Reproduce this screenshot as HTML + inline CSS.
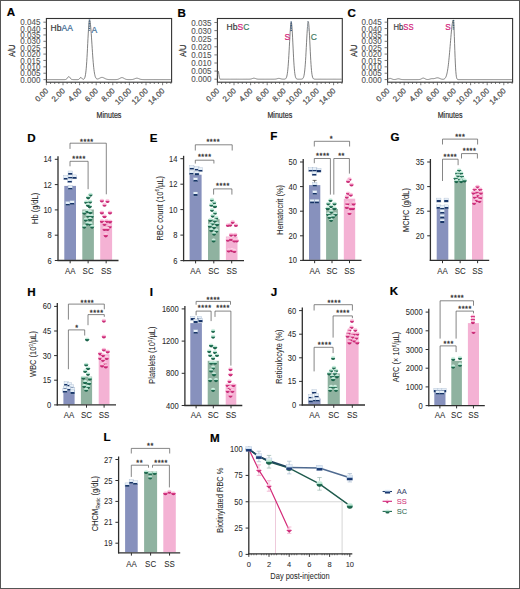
<!DOCTYPE html>
<html><head><meta charset="utf-8"><style>
html,body{margin:0;padding:0;background:#fff;}
svg{display:block;font-family:"Liberation Sans", sans-serif;}

</style></head><body>
<svg width="520" height="589" viewBox="0 0 520 589">
<defs>
<linearGradient id="gAA" x1="0" y1="0" x2="0" y2="1"><stop offset="0" stop-color="#f2f7fc"/><stop offset="0.45" stop-color="#cde0f2"/><stop offset="0.55" stop-color="#23457e"/><stop offset="1" stop-color="#112d66"/></linearGradient>
<linearGradient id="gAA2" x1="0" y1="0" x2="0" y2="1"><stop offset="0" stop-color="#f4f8fc"/><stop offset="0.5" stop-color="#dde9f5"/><stop offset="0.56" stop-color="#1c3a70"/><stop offset="1" stop-color="#0e2858"/></linearGradient>
<linearGradient id="gSC" x1="0" y1="0" x2="0" y2="1"><stop offset="0" stop-color="#e8f8f1"/><stop offset="0.45" stop-color="#ade0ca"/><stop offset="0.55" stop-color="#257458"/><stop offset="1" stop-color="#12553e"/></linearGradient>
<linearGradient id="gSS" x1="0" y1="0" x2="0" y2="1"><stop offset="0" stop-color="#ffe8f3"/><stop offset="0.45" stop-color="#f6a9cd"/><stop offset="0.55" stop-color="#d73682"/><stop offset="1" stop-color="#b61d66"/></linearGradient>
</defs>
<rect x="0" y="0" width="520" height="589" fill="#fff"/>
<rect x="64.30" y="185.90" width="11.70" height="74.00" fill="#8791bd"/>
<rect x="82.30" y="209.50" width="11.60" height="50.40" fill="#8fb2a0"/>
<rect x="100.20" y="220.50" width="11.90" height="39.40" fill="#f4b2d4"/>
<polyline points="70.00,148.90 70.00,143.20 106.30,143.20 106.30,194.30" fill="none" stroke="#5e5e5e" stroke-width="0.75"/>
<text x="86.90" y="144.20" font-size="7.3" text-anchor="middle" fill="#333" font-weight="normal" letter-spacing="0.6" stroke="#333" stroke-width="0.3">****</text>
<polyline points="70.00,166.30 70.00,161.30 88.10,161.30 88.10,189.20" fill="none" stroke="#5e5e5e" stroke-width="0.75"/>
<text x="79.10" y="161.00" font-size="7.3" text-anchor="middle" fill="#333" font-weight="normal" letter-spacing="0.6" stroke="#333" stroke-width="0.3">****</text>
<rect x="68.05" y="171.00" width="4.3" height="4" fill="url(#gAA2)" stroke="#9fb3cb" stroke-width="0.35"/>
<rect x="63.75" y="175.70" width="4.3" height="4" fill="url(#gAA2)" stroke="#9fb3cb" stroke-width="0.35"/>
<rect x="68.05" y="174.90" width="4.3" height="4" fill="url(#gAA2)" stroke="#9fb3cb" stroke-width="0.35"/>
<rect x="72.35" y="174.90" width="4.3" height="4" fill="url(#gAA2)" stroke="#9fb3cb" stroke-width="0.35"/>
<rect x="67.65" y="178.50" width="4.3" height="4" fill="url(#gAA2)" stroke="#9fb3cb" stroke-width="0.35"/>
<rect x="68.05" y="185.50" width="4.3" height="4" fill="url(#gAA2)" stroke="#9fb3cb" stroke-width="0.35"/>
<rect x="65.65" y="201.50" width="4.3" height="4" fill="url(#gAA2)" stroke="#9fb3cb" stroke-width="0.35"/>
<rect x="69.95" y="200.70" width="4.3" height="4" fill="url(#gAA2)" stroke="#9fb3cb" stroke-width="0.35"/>
<circle cx="90.50" cy="194.60" r="2.1" fill="url(#gSC)"/>
<circle cx="88.20" cy="197.30" r="2.1" fill="url(#gSC)"/>
<circle cx="86.20" cy="202.00" r="2.1" fill="url(#gSC)"/>
<circle cx="90.10" cy="201.60" r="2.1" fill="url(#gSC)"/>
<circle cx="89.70" cy="206.30" r="2.1" fill="url(#gSC)"/>
<circle cx="87.80" cy="204.80" r="2.1" fill="url(#gSC)"/>
<circle cx="84.30" cy="212.60" r="2.1" fill="url(#gSC)"/>
<circle cx="87.40" cy="211.00" r="2.1" fill="url(#gSC)"/>
<circle cx="90.10" cy="212.20" r="2.1" fill="url(#gSC)"/>
<circle cx="88.20" cy="215.70" r="2.1" fill="url(#gSC)"/>
<circle cx="91.70" cy="216.10" r="2.1" fill="url(#gSC)"/>
<circle cx="85.80" cy="219.60" r="2.1" fill="url(#gSC)"/>
<circle cx="90.10" cy="219.20" r="2.1" fill="url(#gSC)"/>
<circle cx="87.40" cy="223.50" r="2.1" fill="url(#gSC)"/>
<circle cx="90.50" cy="223.90" r="2.1" fill="url(#gSC)"/>
<circle cx="84.30" cy="226.60" r="2.1" fill="url(#gSC)"/>
<circle cx="92.10" cy="226.60" r="2.1" fill="url(#gSC)"/>
<circle cx="101.90" cy="200.50" r="2.1" fill="url(#gSS)"/>
<circle cx="107.50" cy="200.90" r="2.1" fill="url(#gSS)"/>
<circle cx="104.50" cy="204.70" r="2.1" fill="url(#gSS)"/>
<circle cx="101.90" cy="212.40" r="2.1" fill="url(#gSS)"/>
<circle cx="110.00" cy="212.40" r="2.1" fill="url(#gSS)"/>
<circle cx="104.50" cy="216.20" r="2.1" fill="url(#gSS)"/>
<circle cx="101.90" cy="220.90" r="2.1" fill="url(#gSS)"/>
<circle cx="106.60" cy="220.90" r="2.1" fill="url(#gSS)"/>
<circle cx="110.00" cy="221.30" r="2.1" fill="url(#gSS)"/>
<circle cx="104.50" cy="223.80" r="2.1" fill="url(#gSS)"/>
<circle cx="109.60" cy="226.40" r="2.1" fill="url(#gSS)"/>
<circle cx="104.50" cy="228.90" r="2.1" fill="url(#gSS)"/>
<circle cx="107.50" cy="228.90" r="2.1" fill="url(#gSS)"/>
<circle cx="105.80" cy="235.30" r="2.1" fill="url(#gSS)"/>
<line x1="58.00" y1="156.20" x2="58.00" y2="261.10" stroke="#2e2e2e" stroke-width="1.3"/>
<line x1="57.40" y1="260.50" x2="118.50" y2="260.50" stroke="#2e2e2e" stroke-width="1.3"/>
<line x1="54.80" y1="159.30" x2="58.00" y2="159.30" stroke="#2e2e2e" stroke-width="1"/>
<text transform="translate(51.80,162.30) scale(0.9,1)" font-size="8.4" text-anchor="end" fill="#2a2a2a" font-weight="normal"  stroke="#2a2a2a" stroke-width="0.06">14</text>
<line x1="54.80" y1="184.60" x2="58.00" y2="184.60" stroke="#2e2e2e" stroke-width="1"/>
<text transform="translate(51.80,187.60) scale(0.9,1)" font-size="8.4" text-anchor="end" fill="#2a2a2a" font-weight="normal"  stroke="#2a2a2a" stroke-width="0.06">12</text>
<line x1="54.80" y1="209.90" x2="58.00" y2="209.90" stroke="#2e2e2e" stroke-width="1"/>
<text transform="translate(51.80,212.90) scale(0.9,1)" font-size="8.4" text-anchor="end" fill="#2a2a2a" font-weight="normal"  stroke="#2a2a2a" stroke-width="0.06">10</text>
<line x1="54.80" y1="235.20" x2="58.00" y2="235.20" stroke="#2e2e2e" stroke-width="1"/>
<text transform="translate(51.80,238.20) scale(0.9,1)" font-size="8.4" text-anchor="end" fill="#2a2a2a" font-weight="normal"  stroke="#2a2a2a" stroke-width="0.06">8</text>
<line x1="54.80" y1="260.50" x2="58.00" y2="260.50" stroke="#2e2e2e" stroke-width="1"/>
<text transform="translate(51.80,263.50) scale(0.9,1)" font-size="8.4" text-anchor="end" fill="#2a2a2a" font-weight="normal"  stroke="#2a2a2a" stroke-width="0.06">6</text>
<line x1="70.15" y1="260.50" x2="70.15" y2="263.30" stroke="#2e2e2e" stroke-width="1"/>
<text transform="translate(70.15,273.90) scale(0.93,1)" font-size="8.5" text-anchor="middle" fill="#2a2a2a" font-weight="normal"  stroke="#2a2a2a" stroke-width="0.05">AA</text>
<line x1="88.10" y1="260.50" x2="88.10" y2="263.30" stroke="#2e2e2e" stroke-width="1"/>
<text transform="translate(88.10,273.90) scale(0.93,1)" font-size="8.5" text-anchor="middle" fill="#2a2a2a" font-weight="normal"  stroke="#2a2a2a" stroke-width="0.05">SC</text>
<line x1="106.15" y1="260.50" x2="106.15" y2="263.30" stroke="#2e2e2e" stroke-width="1"/>
<text transform="translate(106.15,273.90) scale(0.93,1)" font-size="8.5" text-anchor="middle" fill="#2a2a2a" font-weight="normal"  stroke="#2a2a2a" stroke-width="0.05">SS</text>
<text transform="translate(37.50,208.40) rotate(-90) scale(0.83,1)" font-size="9" text-anchor="middle" fill="#2a2a2a" stroke="#2a2a2a" stroke-width="0.05">Hb (g/dL)</text>
<text x="27.30" y="141.90" font-size="11.6" font-weight="bold" fill="#000" stroke="#000" stroke-width="0.2" stroke-linejoin="round">D</text>
<rect x="189.60" y="174.70" width="12.00" height="85.30" fill="#8791bd"/>
<rect x="208.00" y="219.20" width="11.60" height="40.80" fill="#8fb2a0"/>
<rect x="225.90" y="236.50" width="11.60" height="23.50" fill="#f4b2d4"/>
<polyline points="195.30,150.50 195.30,144.80 232.20,144.80 232.20,150.50" fill="none" stroke="#5e5e5e" stroke-width="0.75"/>
<text x="213.30" y="144.40" font-size="7.3" text-anchor="middle" fill="#333" font-weight="normal" letter-spacing="0.6" stroke="#333" stroke-width="0.3">****</text>
<polyline points="195.30,163.50 195.30,160.20 213.90,160.20 213.90,163.50" fill="none" stroke="#5e5e5e" stroke-width="0.75"/>
<text x="204.80" y="159.30" font-size="7.3" text-anchor="middle" fill="#333" font-weight="normal" letter-spacing="0.6" stroke="#333" stroke-width="0.3">****</text>
<polyline points="213.60,194.60 213.60,188.90 231.90,188.90 231.90,194.60" fill="none" stroke="#5e5e5e" stroke-width="0.75"/>
<text x="223.00" y="187.90" font-size="7.3" text-anchor="middle" fill="#333" font-weight="normal" letter-spacing="0.6" stroke="#333" stroke-width="0.3">****</text>
<rect x="189.65" y="165.50" width="4.3" height="4" fill="url(#gAA2)" stroke="#9fb3cb" stroke-width="0.35"/>
<rect x="194.75" y="166.50" width="4.3" height="4" fill="url(#gAA2)" stroke="#9fb3cb" stroke-width="0.35"/>
<rect x="198.15" y="167.60" width="4.3" height="4" fill="url(#gAA2)" stroke="#9fb3cb" stroke-width="0.35"/>
<rect x="189.25" y="170.60" width="4.3" height="4" fill="url(#gAA2)" stroke="#9fb3cb" stroke-width="0.35"/>
<rect x="194.75" y="171.30" width="4.3" height="4" fill="url(#gAA2)" stroke="#9fb3cb" stroke-width="0.35"/>
<rect x="193.35" y="177.80" width="4.3" height="4" fill="url(#gAA2)" stroke="#9fb3cb" stroke-width="0.35"/>
<rect x="193.35" y="192.00" width="4.3" height="4" fill="url(#gAA2)" stroke="#9fb3cb" stroke-width="0.35"/>
<circle cx="212.00" cy="199.70" r="2.1" fill="url(#gSC)"/>
<circle cx="214.10" cy="202.60" r="2.1" fill="url(#gSC)"/>
<circle cx="211.30" cy="204.70" r="2.1" fill="url(#gSC)"/>
<circle cx="214.90" cy="206.20" r="2.1" fill="url(#gSC)"/>
<circle cx="212.00" cy="209.80" r="2.1" fill="url(#gSC)"/>
<circle cx="214.90" cy="212.70" r="2.1" fill="url(#gSC)"/>
<circle cx="212.70" cy="215.60" r="2.1" fill="url(#gSC)"/>
<circle cx="216.30" cy="217.70" r="2.1" fill="url(#gSC)"/>
<circle cx="210.50" cy="219.90" r="2.1" fill="url(#gSC)"/>
<circle cx="214.90" cy="220.60" r="2.1" fill="url(#gSC)"/>
<circle cx="212.00" cy="223.50" r="2.1" fill="url(#gSC)"/>
<circle cx="217.00" cy="224.20" r="2.1" fill="url(#gSC)"/>
<circle cx="209.80" cy="225.70" r="2.1" fill="url(#gSC)"/>
<circle cx="214.10" cy="227.10" r="2.1" fill="url(#gSC)"/>
<circle cx="211.30" cy="230.00" r="2.1" fill="url(#gSC)"/>
<circle cx="216.30" cy="230.70" r="2.1" fill="url(#gSC)"/>
<circle cx="214.10" cy="233.60" r="2.1" fill="url(#gSC)"/>
<circle cx="213.60" cy="240.50" r="2.1" fill="url(#gSC)"/>
<circle cx="227.90" cy="225.00" r="2.1" fill="url(#gSS)"/>
<circle cx="230.30" cy="224.60" r="2.1" fill="url(#gSS)"/>
<circle cx="232.70" cy="221.80" r="2.1" fill="url(#gSS)"/>
<circle cx="235.90" cy="225.00" r="2.1" fill="url(#gSS)"/>
<circle cx="231.10" cy="234.60" r="2.1" fill="url(#gSS)"/>
<circle cx="235.10" cy="234.60" r="2.1" fill="url(#gSS)"/>
<circle cx="227.90" cy="239.70" r="2.1" fill="url(#gSS)"/>
<circle cx="231.10" cy="239.00" r="2.1" fill="url(#gSS)"/>
<circle cx="234.30" cy="240.50" r="2.1" fill="url(#gSS)"/>
<circle cx="236.70" cy="240.50" r="2.1" fill="url(#gSS)"/>
<circle cx="228.70" cy="250.50" r="2.1" fill="url(#gSS)"/>
<circle cx="231.90" cy="250.10" r="2.1" fill="url(#gSS)"/>
<circle cx="234.30" cy="250.90" r="2.1" fill="url(#gSS)"/>
<line x1="183.60" y1="155.80" x2="183.60" y2="261.20" stroke="#2e2e2e" stroke-width="1.3"/>
<line x1="183.00" y1="260.60" x2="244.00" y2="260.60" stroke="#2e2e2e" stroke-width="1.3"/>
<line x1="180.40" y1="158.70" x2="183.60" y2="158.70" stroke="#2e2e2e" stroke-width="1"/>
<text transform="translate(177.40,161.70) scale(0.9,1)" font-size="8.4" text-anchor="end" fill="#2a2a2a" font-weight="normal"  stroke="#2a2a2a" stroke-width="0.06">14</text>
<line x1="180.40" y1="184.20" x2="183.60" y2="184.20" stroke="#2e2e2e" stroke-width="1"/>
<text transform="translate(177.40,187.20) scale(0.9,1)" font-size="8.4" text-anchor="end" fill="#2a2a2a" font-weight="normal"  stroke="#2a2a2a" stroke-width="0.06">12</text>
<line x1="180.40" y1="209.60" x2="183.60" y2="209.60" stroke="#2e2e2e" stroke-width="1"/>
<text transform="translate(177.40,212.60) scale(0.9,1)" font-size="8.4" text-anchor="end" fill="#2a2a2a" font-weight="normal"  stroke="#2a2a2a" stroke-width="0.06">10</text>
<line x1="180.40" y1="235.10" x2="183.60" y2="235.10" stroke="#2e2e2e" stroke-width="1"/>
<text transform="translate(177.40,238.10) scale(0.9,1)" font-size="8.4" text-anchor="end" fill="#2a2a2a" font-weight="normal"  stroke="#2a2a2a" stroke-width="0.06">8</text>
<line x1="180.40" y1="260.60" x2="183.60" y2="260.60" stroke="#2e2e2e" stroke-width="1"/>
<text transform="translate(177.40,263.60) scale(0.9,1)" font-size="8.4" text-anchor="end" fill="#2a2a2a" font-weight="normal"  stroke="#2a2a2a" stroke-width="0.06">6</text>
<line x1="195.60" y1="260.60" x2="195.60" y2="263.40" stroke="#2e2e2e" stroke-width="1"/>
<text transform="translate(195.60,273.90) scale(0.93,1)" font-size="8.5" text-anchor="middle" fill="#2a2a2a" font-weight="normal"  stroke="#2a2a2a" stroke-width="0.05">AA</text>
<line x1="213.80" y1="260.60" x2="213.80" y2="263.40" stroke="#2e2e2e" stroke-width="1"/>
<text transform="translate(213.80,273.90) scale(0.93,1)" font-size="8.5" text-anchor="middle" fill="#2a2a2a" font-weight="normal"  stroke="#2a2a2a" stroke-width="0.05">SC</text>
<line x1="231.70" y1="260.60" x2="231.70" y2="263.40" stroke="#2e2e2e" stroke-width="1"/>
<text transform="translate(231.70,273.90) scale(0.93,1)" font-size="8.5" text-anchor="middle" fill="#2a2a2a" font-weight="normal"  stroke="#2a2a2a" stroke-width="0.05">SS</text>
<text transform="translate(162.60,208.20) rotate(-90) scale(0.83,1)" font-size="9" text-anchor="middle" fill="#2a2a2a" stroke="#2a2a2a" stroke-width="0.05">RBC count (10<tspan font-size="5.5" dy="-3.2">6</tspan><tspan dy="3.2">/µL)</tspan></text>
<text x="149.80" y="141.90" font-size="11.6" font-weight="bold" fill="#000" stroke="#000" stroke-width="0.2" stroke-linejoin="round">E</text>
<rect x="309.00" y="185.10" width="11.30" height="74.70" fill="#8791bd"/>
<rect x="326.10" y="209.00" width="11.80" height="50.80" fill="#8fb2a0"/>
<rect x="343.80" y="198.70" width="11.40" height="61.10" fill="#f4b2d4"/>
<line x1="314.60" y1="185.10" x2="314.60" y2="180.40" stroke="#333" stroke-width="0.7"/>
<line x1="312.60" y1="180.40" x2="316.60" y2="180.40" stroke="#333" stroke-width="0.7"/>
<polyline points="314.30,146.50 314.30,141.30 349.60,141.30 349.60,146.50" fill="none" stroke="#5e5e5e" stroke-width="0.75"/>
<text x="331.50" y="141.30" font-size="7.3" text-anchor="middle" fill="#333" font-weight="normal" letter-spacing="0.6" stroke="#333" stroke-width="0.3">*</text>
<polyline points="314.30,163.20 314.30,158.50 330.40,158.50 330.40,194.60" fill="none" stroke="#5e5e5e" stroke-width="0.75"/>
<text x="322.90" y="157.90" font-size="7.3" text-anchor="middle" fill="#333" font-weight="normal" letter-spacing="0.6" stroke="#333" stroke-width="0.3">****</text>
<polyline points="333.80,194.60 333.80,158.50 349.40,158.50 349.40,173.60" fill="none" stroke="#5e5e5e" stroke-width="0.75"/>
<text x="341.60" y="157.90" font-size="7.3" text-anchor="middle" fill="#333" font-weight="normal" letter-spacing="0.6" stroke="#333" stroke-width="0.3">**</text>
<rect x="308.65" y="167.50" width="4.3" height="4" fill="url(#gAA2)" stroke="#9fb3cb" stroke-width="0.35"/>
<rect x="312.65" y="167.50" width="4.3" height="4" fill="url(#gAA2)" stroke="#9fb3cb" stroke-width="0.35"/>
<rect x="316.75" y="168.20" width="4.3" height="4" fill="url(#gAA2)" stroke="#9fb3cb" stroke-width="0.35"/>
<rect x="312.05" y="171.60" width="4.3" height="4" fill="url(#gAA2)" stroke="#9fb3cb" stroke-width="0.35"/>
<rect x="312.65" y="182.50" width="4.3" height="4" fill="url(#gAA2)" stroke="#9fb3cb" stroke-width="0.35"/>
<rect x="312.65" y="190.60" width="4.3" height="4" fill="url(#gAA2)" stroke="#9fb3cb" stroke-width="0.35"/>
<rect x="309.95" y="199.40" width="4.3" height="4" fill="url(#gAA2)" stroke="#9fb3cb" stroke-width="0.35"/>
<rect x="314.75" y="199.40" width="4.3" height="4" fill="url(#gAA2)" stroke="#9fb3cb" stroke-width="0.35"/>
<circle cx="330.50" cy="200.10" r="2.1" fill="url(#gSC)"/>
<circle cx="328.40" cy="203.50" r="2.1" fill="url(#gSC)"/>
<circle cx="334.50" cy="203.50" r="2.1" fill="url(#gSC)"/>
<circle cx="331.10" cy="206.20" r="2.1" fill="url(#gSC)"/>
<circle cx="327.70" cy="208.20" r="2.1" fill="url(#gSC)"/>
<circle cx="334.50" cy="208.20" r="2.1" fill="url(#gSC)"/>
<circle cx="331.10" cy="211.60" r="2.1" fill="url(#gSC)"/>
<circle cx="328.40" cy="214.30" r="2.1" fill="url(#gSC)"/>
<circle cx="335.20" cy="214.30" r="2.1" fill="url(#gSC)"/>
<circle cx="331.10" cy="219.80" r="2.1" fill="url(#gSC)"/>
<circle cx="333.00" cy="216.50" r="2.1" fill="url(#gSC)"/>
<circle cx="329.50" cy="217.00" r="2.1" fill="url(#gSC)"/>
<circle cx="349.50" cy="179.00" r="2.1" fill="url(#gSS)"/>
<circle cx="348.10" cy="181.00" r="2.1" fill="url(#gSS)"/>
<circle cx="351.50" cy="184.50" r="2.1" fill="url(#gSS)"/>
<circle cx="348.10" cy="193.30" r="2.1" fill="url(#gSS)"/>
<circle cx="346.80" cy="196.70" r="2.1" fill="url(#gSS)"/>
<circle cx="350.80" cy="194.60" r="2.1" fill="url(#gSS)"/>
<circle cx="347.40" cy="203.50" r="2.1" fill="url(#gSS)"/>
<circle cx="353.60" cy="203.50" r="2.1" fill="url(#gSS)"/>
<circle cx="346.80" cy="206.90" r="2.1" fill="url(#gSS)"/>
<circle cx="350.80" cy="208.20" r="2.1" fill="url(#gSS)"/>
<circle cx="352.90" cy="208.20" r="2.1" fill="url(#gSS)"/>
<circle cx="349.50" cy="213.00" r="2.1" fill="url(#gSS)"/>
<line x1="303.20" y1="159.00" x2="303.20" y2="261.00" stroke="#2e2e2e" stroke-width="1.3"/>
<line x1="302.60" y1="260.40" x2="361.50" y2="260.40" stroke="#2e2e2e" stroke-width="1.3"/>
<line x1="300.00" y1="162.00" x2="303.20" y2="162.00" stroke="#2e2e2e" stroke-width="1"/>
<text transform="translate(297.00,165.00) scale(0.9,1)" font-size="8.4" text-anchor="end" fill="#2a2a2a" font-weight="normal"  stroke="#2a2a2a" stroke-width="0.06">50</text>
<line x1="300.00" y1="186.60" x2="303.20" y2="186.60" stroke="#2e2e2e" stroke-width="1"/>
<text transform="translate(297.00,189.60) scale(0.9,1)" font-size="8.4" text-anchor="end" fill="#2a2a2a" font-weight="normal"  stroke="#2a2a2a" stroke-width="0.06">40</text>
<line x1="300.00" y1="211.20" x2="303.20" y2="211.20" stroke="#2e2e2e" stroke-width="1"/>
<text transform="translate(297.00,214.20) scale(0.9,1)" font-size="8.4" text-anchor="end" fill="#2a2a2a" font-weight="normal"  stroke="#2a2a2a" stroke-width="0.06">30</text>
<line x1="300.00" y1="235.80" x2="303.20" y2="235.80" stroke="#2e2e2e" stroke-width="1"/>
<text transform="translate(297.00,238.80) scale(0.9,1)" font-size="8.4" text-anchor="end" fill="#2a2a2a" font-weight="normal"  stroke="#2a2a2a" stroke-width="0.06">20</text>
<line x1="300.00" y1="260.40" x2="303.20" y2="260.40" stroke="#2e2e2e" stroke-width="1"/>
<text transform="translate(297.00,263.40) scale(0.9,1)" font-size="8.4" text-anchor="end" fill="#2a2a2a" font-weight="normal"  stroke="#2a2a2a" stroke-width="0.06">10</text>
<line x1="314.65" y1="260.40" x2="314.65" y2="263.20" stroke="#2e2e2e" stroke-width="1"/>
<text transform="translate(314.65,273.90) scale(0.93,1)" font-size="8.5" text-anchor="middle" fill="#2a2a2a" font-weight="normal"  stroke="#2a2a2a" stroke-width="0.05">AA</text>
<line x1="332.00" y1="260.40" x2="332.00" y2="263.20" stroke="#2e2e2e" stroke-width="1"/>
<text transform="translate(332.00,273.90) scale(0.93,1)" font-size="8.5" text-anchor="middle" fill="#2a2a2a" font-weight="normal"  stroke="#2a2a2a" stroke-width="0.05">SC</text>
<line x1="349.50" y1="260.40" x2="349.50" y2="263.20" stroke="#2e2e2e" stroke-width="1"/>
<text transform="translate(349.50,273.90) scale(0.93,1)" font-size="8.5" text-anchor="middle" fill="#2a2a2a" font-weight="normal"  stroke="#2a2a2a" stroke-width="0.05">SS</text>
<text transform="translate(282.60,209.80) rotate(-90) scale(0.83,1)" font-size="9" text-anchor="middle" fill="#2a2a2a" stroke="#2a2a2a" stroke-width="0.05">Hematocrit (%)</text>
<text x="270.30" y="140.20" font-size="11.6" font-weight="bold" fill="#000" stroke="#000" stroke-width="0.2" stroke-linejoin="round">F</text>
<rect x="436.70" y="206.50" width="11.60" height="53.30" fill="#8791bd"/>
<rect x="454.40" y="180.40" width="11.50" height="79.40" fill="#8fb2a0"/>
<rect x="472.00" y="191.50" width="11.20" height="68.30" fill="#f4b2d4"/>
<polyline points="442.50,144.50 442.50,139.10 477.60,139.10 477.60,144.50" fill="none" stroke="#5e5e5e" stroke-width="0.75"/>
<text x="460.30" y="138.90" font-size="7.3" text-anchor="middle" fill="#333" font-weight="normal" letter-spacing="0.6" stroke="#333" stroke-width="0.3">***</text>
<polyline points="461.50,158.50 461.50,153.60 477.40,153.60 477.40,158.50" fill="none" stroke="#5e5e5e" stroke-width="0.75"/>
<text x="469.60" y="152.90" font-size="7.3" text-anchor="middle" fill="#333" font-weight="normal" letter-spacing="0.6" stroke="#333" stroke-width="0.3">****</text>
<polyline points="442.50,181.00 442.50,159.20 458.10,159.20 458.10,165.20" fill="none" stroke="#5e5e5e" stroke-width="0.75"/>
<text x="450.40" y="158.60" font-size="7.3" text-anchor="middle" fill="#333" font-weight="normal" letter-spacing="0.6" stroke="#333" stroke-width="0.3">****</text>
<rect x="436.65" y="198.10" width="4.3" height="4" fill="url(#gAA2)" stroke="#9fb3cb" stroke-width="0.35"/>
<rect x="444.05" y="198.10" width="4.3" height="4" fill="url(#gAA2)" stroke="#9fb3cb" stroke-width="0.35"/>
<rect x="436.65" y="204.90" width="4.3" height="4" fill="url(#gAA2)" stroke="#9fb3cb" stroke-width="0.35"/>
<rect x="444.05" y="204.90" width="4.3" height="4" fill="url(#gAA2)" stroke="#9fb3cb" stroke-width="0.35"/>
<rect x="440.05" y="205.60" width="4.3" height="4" fill="url(#gAA2)" stroke="#9fb3cb" stroke-width="0.35"/>
<rect x="440.05" y="209.60" width="4.3" height="4" fill="url(#gAA2)" stroke="#9fb3cb" stroke-width="0.35"/>
<rect x="440.05" y="214.40" width="4.3" height="4" fill="url(#gAA2)" stroke="#9fb3cb" stroke-width="0.35"/>
<rect x="440.05" y="219.10" width="4.3" height="4" fill="url(#gAA2)" stroke="#9fb3cb" stroke-width="0.35"/>
<circle cx="459.10" cy="170.20" r="2.1" fill="url(#gSC)"/>
<circle cx="457.10" cy="172.90" r="2.1" fill="url(#gSC)"/>
<circle cx="461.20" cy="172.90" r="2.1" fill="url(#gSC)"/>
<circle cx="457.80" cy="175.60" r="2.1" fill="url(#gSC)"/>
<circle cx="461.90" cy="176.30" r="2.1" fill="url(#gSC)"/>
<circle cx="455.70" cy="178.30" r="2.1" fill="url(#gSC)"/>
<circle cx="459.80" cy="179.00" r="2.1" fill="url(#gSC)"/>
<circle cx="463.20" cy="179.00" r="2.1" fill="url(#gSC)"/>
<circle cx="456.40" cy="181.10" r="2.1" fill="url(#gSC)"/>
<circle cx="461.20" cy="181.10" r="2.1" fill="url(#gSC)"/>
<circle cx="464.60" cy="180.40" r="2.1" fill="url(#gSC)"/>
<circle cx="477.50" cy="186.50" r="2.1" fill="url(#gSS)"/>
<circle cx="474.80" cy="189.20" r="2.1" fill="url(#gSS)"/>
<circle cx="480.20" cy="189.20" r="2.1" fill="url(#gSS)"/>
<circle cx="476.80" cy="191.90" r="2.1" fill="url(#gSS)"/>
<circle cx="473.40" cy="192.60" r="2.1" fill="url(#gSS)"/>
<circle cx="480.90" cy="192.60" r="2.1" fill="url(#gSS)"/>
<circle cx="477.50" cy="195.30" r="2.1" fill="url(#gSS)"/>
<circle cx="474.80" cy="196.70" r="2.1" fill="url(#gSS)"/>
<circle cx="480.20" cy="197.40" r="2.1" fill="url(#gSS)"/>
<circle cx="476.80" cy="200.10" r="2.1" fill="url(#gSS)"/>
<circle cx="474.10" cy="202.80" r="2.1" fill="url(#gSS)"/>
<circle cx="479.50" cy="200.80" r="2.1" fill="url(#gSS)"/>
<line x1="430.40" y1="159.00" x2="430.40" y2="261.00" stroke="#2e2e2e" stroke-width="1.3"/>
<line x1="429.80" y1="260.40" x2="489.20" y2="260.40" stroke="#2e2e2e" stroke-width="1.3"/>
<line x1="427.20" y1="162.00" x2="430.40" y2="162.00" stroke="#2e2e2e" stroke-width="1"/>
<text transform="translate(424.20,165.00) scale(0.9,1)" font-size="8.4" text-anchor="end" fill="#2a2a2a" font-weight="normal"  stroke="#2a2a2a" stroke-width="0.06">35</text>
<line x1="427.20" y1="186.60" x2="430.40" y2="186.60" stroke="#2e2e2e" stroke-width="1"/>
<text transform="translate(424.20,189.60) scale(0.9,1)" font-size="8.4" text-anchor="end" fill="#2a2a2a" font-weight="normal"  stroke="#2a2a2a" stroke-width="0.06">30</text>
<line x1="427.20" y1="211.20" x2="430.40" y2="211.20" stroke="#2e2e2e" stroke-width="1"/>
<text transform="translate(424.20,214.20) scale(0.9,1)" font-size="8.4" text-anchor="end" fill="#2a2a2a" font-weight="normal"  stroke="#2a2a2a" stroke-width="0.06">25</text>
<line x1="427.20" y1="235.80" x2="430.40" y2="235.80" stroke="#2e2e2e" stroke-width="1"/>
<text transform="translate(424.20,238.80) scale(0.9,1)" font-size="8.4" text-anchor="end" fill="#2a2a2a" font-weight="normal"  stroke="#2a2a2a" stroke-width="0.06">20</text>
<line x1="442.50" y1="260.40" x2="442.50" y2="263.20" stroke="#2e2e2e" stroke-width="1"/>
<text transform="translate(442.50,273.90) scale(0.93,1)" font-size="8.5" text-anchor="middle" fill="#2a2a2a" font-weight="normal"  stroke="#2a2a2a" stroke-width="0.05">AA</text>
<line x1="460.15" y1="260.40" x2="460.15" y2="263.20" stroke="#2e2e2e" stroke-width="1"/>
<text transform="translate(460.15,273.90) scale(0.93,1)" font-size="8.5" text-anchor="middle" fill="#2a2a2a" font-weight="normal"  stroke="#2a2a2a" stroke-width="0.05">SC</text>
<line x1="477.60" y1="260.40" x2="477.60" y2="263.20" stroke="#2e2e2e" stroke-width="1"/>
<text transform="translate(477.60,273.90) scale(0.93,1)" font-size="8.5" text-anchor="middle" fill="#2a2a2a" font-weight="normal"  stroke="#2a2a2a" stroke-width="0.05">SS</text>
<text transform="translate(409.10,210.10) rotate(-90) scale(0.83,1)" font-size="9" text-anchor="middle" fill="#2a2a2a" stroke="#2a2a2a" stroke-width="0.05">MCHC (g/dL)</text>
<text x="390.40" y="141.40" font-size="11.6" font-weight="bold" fill="#000" stroke="#000" stroke-width="0.2" stroke-linejoin="round">G</text>
<rect x="63.40" y="389.50" width="11.20" height="14.80" fill="#8791bd"/>
<rect x="80.90" y="376.60" width="11.20" height="27.70" fill="#8fb2a0"/>
<rect x="98.70" y="354.20" width="10.80" height="50.10" fill="#f4b2d4"/>
<polyline points="68.40,319.60 68.40,304.10 104.30,304.10 104.30,309.30" fill="none" stroke="#5e5e5e" stroke-width="0.75"/>
<text x="87.40" y="304.70" font-size="7.3" text-anchor="middle" fill="#333" font-weight="normal" letter-spacing="0.6" stroke="#333" stroke-width="0.3">****</text>
<polyline points="88.00,325.20 88.00,314.60 104.30,314.60 104.30,316.80" fill="none" stroke="#5e5e5e" stroke-width="0.75"/>
<text x="96.70" y="314.90" font-size="7.3" text-anchor="middle" fill="#333" font-weight="normal" letter-spacing="0.6" stroke="#333" stroke-width="0.3">****</text>
<polyline points="68.40,369.20 68.40,329.90 84.70,329.90 84.70,335.50" fill="none" stroke="#5e5e5e" stroke-width="0.75"/>
<text x="77.10" y="330.30" font-size="7.3" text-anchor="middle" fill="#333" font-weight="normal" letter-spacing="0.6" stroke="#333" stroke-width="0.3">*</text>
<rect x="64.05" y="381.60" width="4.3" height="4" fill="url(#gAA2)" stroke="#9fb3cb" stroke-width="0.35"/>
<rect x="67.35" y="382.50" width="4.3" height="4" fill="url(#gAA2)" stroke="#9fb3cb" stroke-width="0.35"/>
<rect x="69.35" y="384.50" width="4.3" height="4" fill="url(#gAA2)" stroke="#9fb3cb" stroke-width="0.35"/>
<rect x="63.35" y="386.00" width="4.3" height="4" fill="url(#gAA2)" stroke="#9fb3cb" stroke-width="0.35"/>
<rect x="66.65" y="386.60" width="4.3" height="4" fill="url(#gAA2)" stroke="#9fb3cb" stroke-width="0.35"/>
<rect x="70.55" y="387.50" width="4.3" height="4" fill="url(#gAA2)" stroke="#9fb3cb" stroke-width="0.35"/>
<rect x="62.85" y="388.70" width="4.3" height="4" fill="url(#gAA2)" stroke="#9fb3cb" stroke-width="0.35"/>
<rect x="70.35" y="390.00" width="4.3" height="4" fill="url(#gAA2)" stroke="#9fb3cb" stroke-width="0.35"/>
<circle cx="87.10" cy="339.30" r="2.1" fill="url(#gSC)"/>
<circle cx="86.20" cy="364.50" r="2.1" fill="url(#gSC)"/>
<circle cx="88.00" cy="368.20" r="2.1" fill="url(#gSC)"/>
<circle cx="85.20" cy="371.00" r="2.1" fill="url(#gSC)"/>
<circle cx="88.00" cy="373.80" r="2.1" fill="url(#gSC)"/>
<circle cx="83.40" cy="377.60" r="2.1" fill="url(#gSC)"/>
<circle cx="89.90" cy="378.50" r="2.1" fill="url(#gSC)"/>
<circle cx="85.20" cy="382.20" r="2.1" fill="url(#gSC)"/>
<circle cx="89.00" cy="383.20" r="2.1" fill="url(#gSC)"/>
<circle cx="84.30" cy="386.00" r="2.1" fill="url(#gSC)"/>
<circle cx="88.00" cy="386.90" r="2.1" fill="url(#gSC)"/>
<circle cx="86.20" cy="389.70" r="2.1" fill="url(#gSC)"/>
<circle cx="103.90" cy="320.60" r="2.1" fill="url(#gSS)"/>
<circle cx="103.90" cy="336.40" r="2.1" fill="url(#gSS)"/>
<circle cx="103.90" cy="349.50" r="2.1" fill="url(#gSS)"/>
<circle cx="100.20" cy="353.30" r="2.1" fill="url(#gSS)"/>
<circle cx="107.70" cy="351.40" r="2.1" fill="url(#gSS)"/>
<circle cx="103.00" cy="355.10" r="2.1" fill="url(#gSS)"/>
<circle cx="100.20" cy="357.90" r="2.1" fill="url(#gSS)"/>
<circle cx="106.70" cy="357.90" r="2.1" fill="url(#gSS)"/>
<circle cx="103.00" cy="359.80" r="2.1" fill="url(#gSS)"/>
<circle cx="104.90" cy="363.60" r="2.1" fill="url(#gSS)"/>
<circle cx="102.10" cy="365.40" r="2.1" fill="url(#gSS)"/>
<circle cx="105.80" cy="366.40" r="2.1" fill="url(#gSS)"/>
<line x1="57.30" y1="302.90" x2="57.30" y2="405.50" stroke="#2e2e2e" stroke-width="1.3"/>
<line x1="56.70" y1="404.90" x2="116.00" y2="404.90" stroke="#2e2e2e" stroke-width="1.3"/>
<line x1="54.10" y1="306.40" x2="57.30" y2="306.40" stroke="#2e2e2e" stroke-width="1"/>
<text transform="translate(51.10,309.40) scale(0.9,1)" font-size="8.4" text-anchor="end" fill="#2a2a2a" font-weight="normal"  stroke="#2a2a2a" stroke-width="0.06">60</text>
<line x1="54.10" y1="331.00" x2="57.30" y2="331.00" stroke="#2e2e2e" stroke-width="1"/>
<text transform="translate(51.10,334.00) scale(0.9,1)" font-size="8.4" text-anchor="end" fill="#2a2a2a" font-weight="normal"  stroke="#2a2a2a" stroke-width="0.06">45</text>
<line x1="54.10" y1="355.60" x2="57.30" y2="355.60" stroke="#2e2e2e" stroke-width="1"/>
<text transform="translate(51.10,358.60) scale(0.9,1)" font-size="8.4" text-anchor="end" fill="#2a2a2a" font-weight="normal"  stroke="#2a2a2a" stroke-width="0.06">30</text>
<line x1="54.10" y1="380.20" x2="57.30" y2="380.20" stroke="#2e2e2e" stroke-width="1"/>
<text transform="translate(51.10,383.20) scale(0.9,1)" font-size="8.4" text-anchor="end" fill="#2a2a2a" font-weight="normal"  stroke="#2a2a2a" stroke-width="0.06">15</text>
<line x1="54.10" y1="404.90" x2="57.30" y2="404.90" stroke="#2e2e2e" stroke-width="1"/>
<text transform="translate(51.10,407.90) scale(0.9,1)" font-size="8.4" text-anchor="end" fill="#2a2a2a" font-weight="normal"  stroke="#2a2a2a" stroke-width="0.06">0</text>
<line x1="69.00" y1="404.90" x2="69.00" y2="407.70" stroke="#2e2e2e" stroke-width="1"/>
<text transform="translate(69.00,418.00) scale(0.93,1)" font-size="8.5" text-anchor="middle" fill="#2a2a2a" font-weight="normal"  stroke="#2a2a2a" stroke-width="0.05">AA</text>
<line x1="86.50" y1="404.90" x2="86.50" y2="407.70" stroke="#2e2e2e" stroke-width="1"/>
<text transform="translate(86.50,418.00) scale(0.93,1)" font-size="8.5" text-anchor="middle" fill="#2a2a2a" font-weight="normal"  stroke="#2a2a2a" stroke-width="0.05">SC</text>
<line x1="104.10" y1="404.90" x2="104.10" y2="407.70" stroke="#2e2e2e" stroke-width="1"/>
<text transform="translate(104.10,418.00) scale(0.93,1)" font-size="8.5" text-anchor="middle" fill="#2a2a2a" font-weight="normal"  stroke="#2a2a2a" stroke-width="0.05">SS</text>
<text transform="translate(36.20,354.00) rotate(-90) scale(0.83,1)" font-size="9" text-anchor="middle" fill="#2a2a2a" stroke="#2a2a2a" stroke-width="0.05">WBC (10<tspan font-size="5.5" dy="-3.2">3</tspan><tspan dy="3.2">/µL)</tspan></text>
<text x="27.30" y="295.90" font-size="11.6" font-weight="bold" fill="#000" stroke="#000" stroke-width="0.2" stroke-linejoin="round">H</text>
<rect x="190.30" y="323.10" width="11.60" height="81.80" fill="#8791bd"/>
<rect x="207.70" y="360.80" width="11.20" height="44.10" fill="#8fb2a0"/>
<rect x="225.70" y="384.00" width="10.60" height="20.90" fill="#f4b2d4"/>
<polyline points="196.10,304.70 196.10,301.40 230.50,301.40 230.50,304.70" fill="none" stroke="#5e5e5e" stroke-width="0.75"/>
<text x="213.40" y="302.00" font-size="7.3" text-anchor="middle" fill="#333" font-weight="normal" letter-spacing="0.6" stroke="#333" stroke-width="0.3">****</text>
<polyline points="196.10,315.30 196.10,311.10 211.10,311.10 211.10,321.10" fill="none" stroke="#5e5e5e" stroke-width="0.75"/>
<text x="204.70" y="310.30" font-size="7.3" text-anchor="middle" fill="#333" font-weight="normal" letter-spacing="0.6" stroke="#333" stroke-width="0.3">****</text>
<polyline points="215.00,316.90 215.00,311.10 230.90,311.10 230.90,365.60" fill="none" stroke="#5e5e5e" stroke-width="0.75"/>
<text x="223.10" y="310.30" font-size="7.3" text-anchor="middle" fill="#333" font-weight="normal" letter-spacing="0.6" stroke="#333" stroke-width="0.3">****</text>
<rect x="190.65" y="316.20" width="4.3" height="4" fill="url(#gAA2)" stroke="#9fb3cb" stroke-width="0.35"/>
<rect x="197.35" y="316.20" width="4.3" height="4" fill="url(#gAA2)" stroke="#9fb3cb" stroke-width="0.35"/>
<rect x="193.55" y="319.10" width="4.3" height="4" fill="url(#gAA2)" stroke="#9fb3cb" stroke-width="0.35"/>
<rect x="198.35" y="318.20" width="4.3" height="4" fill="url(#gAA2)" stroke="#9fb3cb" stroke-width="0.35"/>
<rect x="193.55" y="329.80" width="4.3" height="4" fill="url(#gAA2)" stroke="#9fb3cb" stroke-width="0.35"/>
<circle cx="213.10" cy="330.80" r="2.1" fill="url(#gSC)"/>
<circle cx="213.10" cy="336.60" r="2.1" fill="url(#gSC)"/>
<circle cx="211.10" cy="345.30" r="2.1" fill="url(#gSC)"/>
<circle cx="215.00" cy="347.30" r="2.1" fill="url(#gSC)"/>
<circle cx="209.20" cy="351.10" r="2.1" fill="url(#gSC)"/>
<circle cx="215.00" cy="352.10" r="2.1" fill="url(#gSC)"/>
<circle cx="210.20" cy="355.00" r="2.1" fill="url(#gSC)"/>
<circle cx="217.00" cy="355.00" r="2.1" fill="url(#gSC)"/>
<circle cx="213.10" cy="357.90" r="2.1" fill="url(#gSC)"/>
<circle cx="211.10" cy="362.70" r="2.1" fill="url(#gSC)"/>
<circle cx="215.00" cy="362.70" r="2.1" fill="url(#gSC)"/>
<circle cx="213.10" cy="367.60" r="2.1" fill="url(#gSC)"/>
<circle cx="211.10" cy="370.50" r="2.1" fill="url(#gSC)"/>
<circle cx="214.00" cy="374.30" r="2.1" fill="url(#gSC)"/>
<circle cx="210.20" cy="380.10" r="2.1" fill="url(#gSC)"/>
<circle cx="216.00" cy="380.10" r="2.1" fill="url(#gSC)"/>
<circle cx="213.10" cy="389.80" r="2.1" fill="url(#gSC)"/>
<circle cx="230.50" cy="369.10" r="2.1" fill="url(#gSS)"/>
<circle cx="230.50" cy="374.30" r="2.1" fill="url(#gSS)"/>
<circle cx="229.50" cy="381.10" r="2.1" fill="url(#gSS)"/>
<circle cx="227.60" cy="385.00" r="2.1" fill="url(#gSS)"/>
<circle cx="233.40" cy="385.00" r="2.1" fill="url(#gSS)"/>
<circle cx="229.50" cy="387.90" r="2.1" fill="url(#gSS)"/>
<circle cx="231.50" cy="388.80" r="2.1" fill="url(#gSS)"/>
<circle cx="232.40" cy="390.80" r="2.1" fill="url(#gSS)"/>
<circle cx="227.60" cy="390.80" r="2.1" fill="url(#gSS)"/>
<circle cx="230.50" cy="395.60" r="2.1" fill="url(#gSS)"/>
<line x1="184.90" y1="306.00" x2="184.90" y2="406.10" stroke="#2e2e2e" stroke-width="1.3"/>
<line x1="184.30" y1="405.50" x2="242.30" y2="405.50" stroke="#2e2e2e" stroke-width="1.3"/>
<line x1="181.70" y1="308.90" x2="184.90" y2="308.90" stroke="#2e2e2e" stroke-width="1"/>
<text transform="translate(178.70,311.90) scale(0.9,1)" font-size="8.4" text-anchor="end" fill="#2a2a2a" font-weight="normal"  stroke="#2a2a2a" stroke-width="0.06">1600</text>
<line x1="181.70" y1="341.10" x2="184.90" y2="341.10" stroke="#2e2e2e" stroke-width="1"/>
<text transform="translate(178.70,344.10) scale(0.9,1)" font-size="8.4" text-anchor="end" fill="#2a2a2a" font-weight="normal"  stroke="#2a2a2a" stroke-width="0.06">1200</text>
<line x1="181.70" y1="373.30" x2="184.90" y2="373.30" stroke="#2e2e2e" stroke-width="1"/>
<text transform="translate(178.70,376.30) scale(0.9,1)" font-size="8.4" text-anchor="end" fill="#2a2a2a" font-weight="normal"  stroke="#2a2a2a" stroke-width="0.06">800</text>
<line x1="181.70" y1="405.50" x2="184.90" y2="405.50" stroke="#2e2e2e" stroke-width="1"/>
<text transform="translate(178.70,408.50) scale(0.9,1)" font-size="8.4" text-anchor="end" fill="#2a2a2a" font-weight="normal"  stroke="#2a2a2a" stroke-width="0.06">400</text>
<line x1="196.10" y1="405.50" x2="196.10" y2="408.30" stroke="#2e2e2e" stroke-width="1"/>
<text transform="translate(196.10,418.00) scale(0.93,1)" font-size="8.5" text-anchor="middle" fill="#2a2a2a" font-weight="normal"  stroke="#2a2a2a" stroke-width="0.05">AA</text>
<line x1="213.30" y1="405.50" x2="213.30" y2="408.30" stroke="#2e2e2e" stroke-width="1"/>
<text transform="translate(213.30,418.00) scale(0.93,1)" font-size="8.5" text-anchor="middle" fill="#2a2a2a" font-weight="normal"  stroke="#2a2a2a" stroke-width="0.05">SC</text>
<line x1="231.00" y1="405.50" x2="231.00" y2="408.30" stroke="#2e2e2e" stroke-width="1"/>
<text transform="translate(231.00,418.00) scale(0.93,1)" font-size="8.5" text-anchor="middle" fill="#2a2a2a" font-weight="normal"  stroke="#2a2a2a" stroke-width="0.05">SS</text>
<text transform="translate(155.30,355.10) rotate(-90) scale(0.83,1)" font-size="9" text-anchor="middle" fill="#2a2a2a" stroke="#2a2a2a" stroke-width="0.05">Platelets (10<tspan font-size="5.5" dy="-3.2">3</tspan><tspan dy="3.2">/µL)</tspan></text>
<text x="149.80" y="295.90" font-size="11.6" font-weight="bold" fill="#000" stroke="#000" stroke-width="0.2" stroke-linejoin="round">I</text>
<rect x="308.30" y="398.50" width="12.20" height="5.90" fill="#8791bd"/>
<rect x="327.70" y="373.40" width="12.10" height="31.00" fill="#8fb2a0"/>
<rect x="346.00" y="332.70" width="12.60" height="71.70" fill="#f4b2d4"/>
<polyline points="314.10,310.50 314.10,304.70 352.40,304.70 352.40,310.50" fill="none" stroke="#5e5e5e" stroke-width="0.75"/>
<text x="334.30" y="305.10" font-size="7.3" text-anchor="middle" fill="#333" font-weight="normal" letter-spacing="0.6" stroke="#333" stroke-width="0.3">****</text>
<polyline points="333.10,337.60 333.10,315.90 352.40,315.90 352.40,318.20" fill="none" stroke="#5e5e5e" stroke-width="0.75"/>
<text x="343.10" y="315.20" font-size="7.3" text-anchor="middle" fill="#333" font-weight="normal" letter-spacing="0.6" stroke="#333" stroke-width="0.3">****</text>
<polyline points="314.10,371.40 314.10,347.30 333.10,347.30 333.10,353.10" fill="none" stroke="#5e5e5e" stroke-width="0.75"/>
<text x="324.70" y="347.10" font-size="7.3" text-anchor="middle" fill="#333" font-weight="normal" letter-spacing="0.6" stroke="#333" stroke-width="0.3">****</text>
<rect x="311.95" y="389.70" width="4.3" height="4" fill="url(#gAA2)" stroke="#9fb3cb" stroke-width="0.35"/>
<rect x="308.65" y="394.60" width="4.3" height="4" fill="url(#gAA2)" stroke="#9fb3cb" stroke-width="0.35"/>
<rect x="314.45" y="393.60" width="4.3" height="4" fill="url(#gAA2)" stroke="#9fb3cb" stroke-width="0.35"/>
<rect x="311.55" y="397.50" width="4.3" height="4" fill="url(#gAA2)" stroke="#9fb3cb" stroke-width="0.35"/>
<rect x="315.45" y="397.50" width="4.3" height="4" fill="url(#gAA2)" stroke="#9fb3cb" stroke-width="0.35"/>
<rect x="308.65" y="398.40" width="4.3" height="4" fill="url(#gAA2)" stroke="#9fb3cb" stroke-width="0.35"/>
<circle cx="333.10" cy="357.90" r="2.1" fill="url(#gSC)"/>
<circle cx="334.00" cy="367.60" r="2.1" fill="url(#gSC)"/>
<circle cx="331.10" cy="370.50" r="2.1" fill="url(#gSC)"/>
<circle cx="336.00" cy="370.50" r="2.1" fill="url(#gSC)"/>
<circle cx="329.20" cy="373.40" r="2.1" fill="url(#gSC)"/>
<circle cx="335.00" cy="373.40" r="2.1" fill="url(#gSC)"/>
<circle cx="332.10" cy="376.30" r="2.1" fill="url(#gSC)"/>
<circle cx="337.00" cy="376.30" r="2.1" fill="url(#gSC)"/>
<circle cx="333.10" cy="379.20" r="2.1" fill="url(#gSC)"/>
<circle cx="331.10" cy="386.90" r="2.1" fill="url(#gSC)"/>
<circle cx="335.00" cy="386.90" r="2.1" fill="url(#gSC)"/>
<circle cx="330.20" cy="389.80" r="2.1" fill="url(#gSC)"/>
<circle cx="336.00" cy="389.80" r="2.1" fill="url(#gSC)"/>
<circle cx="352.00" cy="320.80" r="2.1" fill="url(#gSS)"/>
<circle cx="351.50" cy="327.00" r="2.1" fill="url(#gSS)"/>
<circle cx="349.50" cy="329.80" r="2.1" fill="url(#gSS)"/>
<circle cx="355.30" cy="329.80" r="2.1" fill="url(#gSS)"/>
<circle cx="348.60" cy="332.70" r="2.1" fill="url(#gSS)"/>
<circle cx="353.40" cy="333.70" r="2.1" fill="url(#gSS)"/>
<circle cx="357.30" cy="333.70" r="2.1" fill="url(#gSS)"/>
<circle cx="347.60" cy="335.70" r="2.1" fill="url(#gSS)"/>
<circle cx="352.40" cy="336.60" r="2.1" fill="url(#gSS)"/>
<circle cx="356.30" cy="337.60" r="2.1" fill="url(#gSS)"/>
<circle cx="350.50" cy="339.50" r="2.1" fill="url(#gSS)"/>
<circle cx="354.40" cy="340.50" r="2.1" fill="url(#gSS)"/>
<circle cx="357.30" cy="342.40" r="2.1" fill="url(#gSS)"/>
<circle cx="349.50" cy="342.40" r="2.1" fill="url(#gSS)"/>
<line x1="302.30" y1="307.60" x2="302.30" y2="405.60" stroke="#2e2e2e" stroke-width="1.3"/>
<line x1="301.70" y1="405.00" x2="365.00" y2="405.00" stroke="#2e2e2e" stroke-width="1.3"/>
<line x1="299.10" y1="310.60" x2="302.30" y2="310.60" stroke="#2e2e2e" stroke-width="1"/>
<text transform="translate(296.10,313.60) scale(0.9,1)" font-size="8.4" text-anchor="end" fill="#2a2a2a" font-weight="normal"  stroke="#2a2a2a" stroke-width="0.06">60</text>
<line x1="299.10" y1="334.20" x2="302.30" y2="334.20" stroke="#2e2e2e" stroke-width="1"/>
<text transform="translate(296.10,337.20) scale(0.9,1)" font-size="8.4" text-anchor="end" fill="#2a2a2a" font-weight="normal"  stroke="#2a2a2a" stroke-width="0.06">45</text>
<line x1="299.10" y1="357.80" x2="302.30" y2="357.80" stroke="#2e2e2e" stroke-width="1"/>
<text transform="translate(296.10,360.80) scale(0.9,1)" font-size="8.4" text-anchor="end" fill="#2a2a2a" font-weight="normal"  stroke="#2a2a2a" stroke-width="0.06">30</text>
<line x1="299.10" y1="381.40" x2="302.30" y2="381.40" stroke="#2e2e2e" stroke-width="1"/>
<text transform="translate(296.10,384.40) scale(0.9,1)" font-size="8.4" text-anchor="end" fill="#2a2a2a" font-weight="normal"  stroke="#2a2a2a" stroke-width="0.06">15</text>
<line x1="299.10" y1="405.00" x2="302.30" y2="405.00" stroke="#2e2e2e" stroke-width="1"/>
<text transform="translate(296.10,408.00) scale(0.9,1)" font-size="8.4" text-anchor="end" fill="#2a2a2a" font-weight="normal"  stroke="#2a2a2a" stroke-width="0.06">0</text>
<line x1="314.40" y1="405.00" x2="314.40" y2="407.80" stroke="#2e2e2e" stroke-width="1"/>
<text transform="translate(314.40,418.00) scale(0.93,1)" font-size="8.5" text-anchor="middle" fill="#2a2a2a" font-weight="normal"  stroke="#2a2a2a" stroke-width="0.05">AA</text>
<line x1="333.75" y1="405.00" x2="333.75" y2="407.80" stroke="#2e2e2e" stroke-width="1"/>
<text transform="translate(333.75,418.00) scale(0.93,1)" font-size="8.5" text-anchor="middle" fill="#2a2a2a" font-weight="normal"  stroke="#2a2a2a" stroke-width="0.05">SC</text>
<line x1="352.30" y1="405.00" x2="352.30" y2="407.80" stroke="#2e2e2e" stroke-width="1"/>
<text transform="translate(352.30,418.00) scale(0.93,1)" font-size="8.5" text-anchor="middle" fill="#2a2a2a" font-weight="normal"  stroke="#2a2a2a" stroke-width="0.05">SS</text>
<text transform="translate(281.60,356.60) rotate(-90) scale(0.83,1)" font-size="9" text-anchor="middle" fill="#2a2a2a" stroke="#2a2a2a" stroke-width="0.05">Reticulocyte (%)</text>
<text x="270.80" y="295.90" font-size="11.6" font-weight="bold" fill="#000" stroke="#000" stroke-width="0.2" stroke-linejoin="round">J</text>
<rect x="434.30" y="390.00" width="11.20" height="15.00" fill="#8791bd"/>
<rect x="451.30" y="360.80" width="10.60" height="44.20" fill="#8fb2a0"/>
<rect x="467.90" y="323.10" width="11.10" height="81.90" fill="#f4b2d4"/>
<polyline points="440.10,338.60 440.10,300.80 473.50,300.80 473.50,305.70" fill="none" stroke="#5e5e5e" stroke-width="0.75"/>
<text x="457.40" y="300.20" font-size="7.3" text-anchor="middle" fill="#333" font-weight="normal" letter-spacing="0.6" stroke="#333" stroke-width="0.3">****</text>
<polyline points="456.10,338.60 456.10,311.10 473.50,311.10 473.50,313.40" fill="none" stroke="#5e5e5e" stroke-width="0.75"/>
<text x="465.10" y="311.30" font-size="7.3" text-anchor="middle" fill="#333" font-weight="normal" letter-spacing="0.6" stroke="#333" stroke-width="0.3">****</text>
<polyline points="440.10,383.00 440.10,345.90 456.10,345.90 456.10,352.10" fill="none" stroke="#5e5e5e" stroke-width="0.75"/>
<text x="448.70" y="345.90" font-size="7.3" text-anchor="middle" fill="#333" font-weight="normal" letter-spacing="0.6" stroke="#333" stroke-width="0.3">***</text>
<rect x="433.85" y="388.20" width="4.3" height="4" fill="url(#gAA2)" stroke="#9fb3cb" stroke-width="0.35"/>
<rect x="437.85" y="388.20" width="4.3" height="4" fill="url(#gAA2)" stroke="#9fb3cb" stroke-width="0.35"/>
<rect x="441.85" y="388.20" width="4.3" height="4" fill="url(#gAA2)" stroke="#9fb3cb" stroke-width="0.35"/>
<rect x="435.85" y="390.50" width="4.3" height="4" fill="url(#gAA2)" stroke="#9fb3cb" stroke-width="0.35"/>
<rect x="439.85" y="390.50" width="4.3" height="4" fill="url(#gAA2)" stroke="#9fb3cb" stroke-width="0.35"/>
<circle cx="453.20" cy="358.90" r="2.1" fill="url(#gSC)"/>
<circle cx="460.00" cy="357.90" r="2.1" fill="url(#gSC)"/>
<circle cx="453.20" cy="366.60" r="2.1" fill="url(#gSC)"/>
<circle cx="460.00" cy="364.70" r="2.1" fill="url(#gSC)"/>
<circle cx="472.90" cy="316.30" r="2.1" fill="url(#gSS)"/>
<circle cx="472.90" cy="319.20" r="2.1" fill="url(#gSS)"/>
<circle cx="472.90" cy="322.10" r="2.1" fill="url(#gSS)"/>
<circle cx="473.50" cy="331.80" r="2.1" fill="url(#gSS)"/>
<line x1="428.80" y1="308.70" x2="428.80" y2="406.20" stroke="#2e2e2e" stroke-width="1.3"/>
<line x1="428.20" y1="405.60" x2="484.80" y2="405.60" stroke="#2e2e2e" stroke-width="1.3"/>
<line x1="425.60" y1="312.10" x2="428.80" y2="312.10" stroke="#2e2e2e" stroke-width="1"/>
<text transform="translate(422.60,315.10) scale(0.9,1)" font-size="8.4" text-anchor="end" fill="#2a2a2a" font-weight="normal"  stroke="#2a2a2a" stroke-width="0.06">5000</text>
<line x1="425.60" y1="330.80" x2="428.80" y2="330.80" stroke="#2e2e2e" stroke-width="1"/>
<text transform="translate(422.60,333.80) scale(0.9,1)" font-size="8.4" text-anchor="end" fill="#2a2a2a" font-weight="normal"  stroke="#2a2a2a" stroke-width="0.06">4000</text>
<line x1="425.60" y1="349.50" x2="428.80" y2="349.50" stroke="#2e2e2e" stroke-width="1"/>
<text transform="translate(422.60,352.50) scale(0.9,1)" font-size="8.4" text-anchor="end" fill="#2a2a2a" font-weight="normal"  stroke="#2a2a2a" stroke-width="0.06">3000</text>
<line x1="425.60" y1="368.20" x2="428.80" y2="368.20" stroke="#2e2e2e" stroke-width="1"/>
<text transform="translate(422.60,371.20) scale(0.9,1)" font-size="8.4" text-anchor="end" fill="#2a2a2a" font-weight="normal"  stroke="#2a2a2a" stroke-width="0.06">2000</text>
<line x1="425.60" y1="386.90" x2="428.80" y2="386.90" stroke="#2e2e2e" stroke-width="1"/>
<text transform="translate(422.60,389.90) scale(0.9,1)" font-size="8.4" text-anchor="end" fill="#2a2a2a" font-weight="normal"  stroke="#2a2a2a" stroke-width="0.06">1000</text>
<line x1="425.60" y1="405.60" x2="428.80" y2="405.60" stroke="#2e2e2e" stroke-width="1"/>
<text transform="translate(422.60,408.60) scale(0.9,1)" font-size="8.4" text-anchor="end" fill="#2a2a2a" font-weight="normal"  stroke="#2a2a2a" stroke-width="0.06">0</text>
<line x1="439.90" y1="405.60" x2="439.90" y2="408.40" stroke="#2e2e2e" stroke-width="1"/>
<text transform="translate(439.90,418.00) scale(0.93,1)" font-size="8.5" text-anchor="middle" fill="#2a2a2a" font-weight="normal"  stroke="#2a2a2a" stroke-width="0.05">AA</text>
<line x1="456.60" y1="405.60" x2="456.60" y2="408.40" stroke="#2e2e2e" stroke-width="1"/>
<text transform="translate(456.60,418.00) scale(0.93,1)" font-size="8.5" text-anchor="middle" fill="#2a2a2a" font-weight="normal"  stroke="#2a2a2a" stroke-width="0.05">SC</text>
<line x1="473.45" y1="405.60" x2="473.45" y2="408.40" stroke="#2e2e2e" stroke-width="1"/>
<text transform="translate(473.45,418.00) scale(0.93,1)" font-size="8.5" text-anchor="middle" fill="#2a2a2a" font-weight="normal"  stroke="#2a2a2a" stroke-width="0.05">SS</text>
<text transform="translate(399.10,357.00) rotate(-90) scale(0.83,1)" font-size="9" text-anchor="middle" fill="#2a2a2a" stroke="#2a2a2a" stroke-width="0.05">ARC (× 10<tspan font-size="5.5" dy="-3.2">6</tspan><tspan dy="3.2">/µL)</tspan></text>
<text x="389.80" y="295.40" font-size="11.6" font-weight="bold" fill="#000" stroke="#000" stroke-width="0.2" stroke-linejoin="round">K</text>
<rect x="125.10" y="483.70" width="12.60" height="68.50" fill="#8791bd"/>
<rect x="144.10" y="471.40" width="13.00" height="80.80" fill="#8fb2a0"/>
<rect x="163.30" y="492.90" width="12.50" height="59.30" fill="#f4b2d4"/>
<polyline points="131.30,453.50 131.30,448.40 169.70,448.40 169.70,453.50" fill="none" stroke="#5e5e5e" stroke-width="0.75"/>
<text x="150.50" y="448.20" font-size="7.3" text-anchor="middle" fill="#333" font-weight="normal" letter-spacing="0.6" stroke="#333" stroke-width="0.3">**</text>
<polyline points="131.30,476.90 131.30,465.20 148.50,465.20 148.50,467.70" fill="none" stroke="#5e5e5e" stroke-width="0.75"/>
<text x="139.80" y="464.80" font-size="7.3" text-anchor="middle" fill="#333" font-weight="normal" letter-spacing="0.6" stroke="#333" stroke-width="0.3">**</text>
<polyline points="152.50,467.70 152.50,465.20 169.40,465.20 169.40,487.40" fill="none" stroke="#5e5e5e" stroke-width="0.75"/>
<text x="161.10" y="464.80" font-size="7.3" text-anchor="middle" fill="#333" font-weight="normal" letter-spacing="0.6" stroke="#333" stroke-width="0.3">****</text>
<rect x="125.05" y="482.90" width="4.3" height="4" fill="url(#gAA2)" stroke="#9fb3cb" stroke-width="0.35"/>
<rect x="129.15" y="479.80" width="4.3" height="4" fill="url(#gAA2)" stroke="#9fb3cb" stroke-width="0.35"/>
<rect x="133.05" y="480.80" width="4.3" height="4" fill="url(#gAA2)" stroke="#9fb3cb" stroke-width="0.35"/>
<circle cx="146.10" cy="472.00" r="2.1" fill="url(#gSC)"/>
<circle cx="150.20" cy="473.50" r="2.1" fill="url(#gSC)"/>
<circle cx="154.70" cy="473.00" r="2.1" fill="url(#gSC)"/>
<circle cx="150.20" cy="477.50" r="2.1" fill="url(#gSC)"/>
<circle cx="165.40" cy="493.20" r="2.1" fill="url(#gSS)"/>
<circle cx="169.40" cy="491.70" r="2.1" fill="url(#gSS)"/>
<circle cx="173.40" cy="493.20" r="2.1" fill="url(#gSS)"/>
<line x1="118.60" y1="456.50" x2="118.60" y2="553.40" stroke="#2e2e2e" stroke-width="1.3"/>
<line x1="118.00" y1="552.80" x2="180.20" y2="552.80" stroke="#2e2e2e" stroke-width="1.3"/>
<line x1="115.40" y1="459.50" x2="118.60" y2="459.50" stroke="#2e2e2e" stroke-width="1"/>
<text transform="translate(112.40,462.50) scale(0.9,1)" font-size="8.4" text-anchor="end" fill="#2a2a2a" font-weight="normal"  stroke="#2a2a2a" stroke-width="0.06">27</text>
<line x1="115.40" y1="480.50" x2="118.60" y2="480.50" stroke="#2e2e2e" stroke-width="1"/>
<text transform="translate(112.40,483.50) scale(0.9,1)" font-size="8.4" text-anchor="end" fill="#2a2a2a" font-weight="normal"  stroke="#2a2a2a" stroke-width="0.06">25</text>
<line x1="115.40" y1="501.40" x2="118.60" y2="501.40" stroke="#2e2e2e" stroke-width="1"/>
<text transform="translate(112.40,504.40) scale(0.9,1)" font-size="8.4" text-anchor="end" fill="#2a2a2a" font-weight="normal"  stroke="#2a2a2a" stroke-width="0.06">23</text>
<line x1="115.40" y1="522.30" x2="118.60" y2="522.30" stroke="#2e2e2e" stroke-width="1"/>
<text transform="translate(112.40,525.30) scale(0.9,1)" font-size="8.4" text-anchor="end" fill="#2a2a2a" font-weight="normal"  stroke="#2a2a2a" stroke-width="0.06">21</text>
<line x1="115.40" y1="543.20" x2="118.60" y2="543.20" stroke="#2e2e2e" stroke-width="1"/>
<text transform="translate(112.40,546.20) scale(0.9,1)" font-size="8.4" text-anchor="end" fill="#2a2a2a" font-weight="normal"  stroke="#2a2a2a" stroke-width="0.06">19</text>
<line x1="131.40" y1="552.80" x2="131.40" y2="555.60" stroke="#2e2e2e" stroke-width="1"/>
<text transform="translate(131.40,566.80) scale(0.93,1)" font-size="8.5" text-anchor="middle" fill="#2a2a2a" font-weight="normal"  stroke="#2a2a2a" stroke-width="0.05">AA</text>
<line x1="150.60" y1="552.80" x2="150.60" y2="555.60" stroke="#2e2e2e" stroke-width="1"/>
<text transform="translate(150.60,566.80) scale(0.93,1)" font-size="8.5" text-anchor="middle" fill="#2a2a2a" font-weight="normal"  stroke="#2a2a2a" stroke-width="0.05">SC</text>
<line x1="169.55" y1="552.80" x2="169.55" y2="555.60" stroke="#2e2e2e" stroke-width="1"/>
<text transform="translate(169.55,566.80) scale(0.93,1)" font-size="8.5" text-anchor="middle" fill="#2a2a2a" font-weight="normal"  stroke="#2a2a2a" stroke-width="0.05">SS</text>
<text transform="translate(98.00,503.60) rotate(-90) scale(0.83,1)" font-size="9" text-anchor="middle" fill="#2a2a2a" stroke="#2a2a2a" stroke-width="0.05">CHCM<tspan font-size="6" dy="1.8">Retic</tspan><tspan dy="-1.8"> (g/dL)</tspan></text>
<text x="103.60" y="441.40" font-size="11.6" font-weight="bold" fill="#000" stroke="#000" stroke-width="0.2" stroke-linejoin="round">L</text>
<rect x="46.40" y="18.50" width="125.20" height="63.70" fill="none" stroke="#333" stroke-width="1.1"/>
<line x1="43.40" y1="79.60" x2="46.40" y2="79.60" stroke="#555" stroke-width="0.8"/>
<text transform="translate(40.60,82.75) scale(0.92,1)" font-size="8.8" text-anchor="end" fill="#555" font-weight="normal"  stroke="#555" stroke-width="0.1">0.000</text>
<line x1="43.40" y1="73.22" x2="46.40" y2="73.22" stroke="#555" stroke-width="0.8"/>
<text transform="translate(40.60,76.37) scale(0.92,1)" font-size="8.8" text-anchor="end" fill="#555" font-weight="normal"  stroke="#555" stroke-width="0.1">0.005</text>
<line x1="43.40" y1="66.84" x2="46.40" y2="66.84" stroke="#555" stroke-width="0.8"/>
<text transform="translate(40.60,69.99) scale(0.92,1)" font-size="8.8" text-anchor="end" fill="#555" font-weight="normal"  stroke="#555" stroke-width="0.1">0.010</text>
<line x1="43.40" y1="60.46" x2="46.40" y2="60.46" stroke="#555" stroke-width="0.8"/>
<text transform="translate(40.60,63.61) scale(0.92,1)" font-size="8.8" text-anchor="end" fill="#555" font-weight="normal"  stroke="#555" stroke-width="0.1">0.015</text>
<line x1="43.40" y1="54.08" x2="46.40" y2="54.08" stroke="#555" stroke-width="0.8"/>
<text transform="translate(40.60,57.23) scale(0.92,1)" font-size="8.8" text-anchor="end" fill="#555" font-weight="normal"  stroke="#555" stroke-width="0.1">0.020</text>
<line x1="43.40" y1="47.70" x2="46.40" y2="47.70" stroke="#555" stroke-width="0.8"/>
<text transform="translate(40.60,50.85) scale(0.92,1)" font-size="8.8" text-anchor="end" fill="#555" font-weight="normal"  stroke="#555" stroke-width="0.1">0.025</text>
<line x1="43.40" y1="41.32" x2="46.40" y2="41.32" stroke="#555" stroke-width="0.8"/>
<text transform="translate(40.60,44.47) scale(0.92,1)" font-size="8.8" text-anchor="end" fill="#555" font-weight="normal"  stroke="#555" stroke-width="0.1">0.030</text>
<line x1="43.40" y1="34.94" x2="46.40" y2="34.94" stroke="#555" stroke-width="0.8"/>
<text transform="translate(40.60,38.09) scale(0.92,1)" font-size="8.8" text-anchor="end" fill="#555" font-weight="normal"  stroke="#555" stroke-width="0.1">0.035</text>
<line x1="43.40" y1="28.56" x2="46.40" y2="28.56" stroke="#555" stroke-width="0.8"/>
<text transform="translate(40.60,31.71) scale(0.92,1)" font-size="8.8" text-anchor="end" fill="#555" font-weight="normal"  stroke="#555" stroke-width="0.1">0.040</text>
<line x1="43.40" y1="22.18" x2="46.40" y2="22.18" stroke="#555" stroke-width="0.8"/>
<text transform="translate(40.60,25.33) scale(0.92,1)" font-size="8.8" text-anchor="end" fill="#555" font-weight="normal"  stroke="#555" stroke-width="0.1">0.045</text>
<line x1="46.40" y1="82.20" x2="46.40" y2="85.20" stroke="#444" stroke-width="0.7"/>
<text transform="translate(48.90,91.50) rotate(-45)" font-size="7.8" text-anchor="end" fill="#505050" stroke="#505050" stroke-width="0.22">0.00</text>
<line x1="50.55" y1="82.20" x2="50.55" y2="84.00" stroke="#444" stroke-width="0.7"/>
<line x1="54.70" y1="82.20" x2="54.70" y2="84.00" stroke="#444" stroke-width="0.7"/>
<line x1="58.85" y1="82.20" x2="58.85" y2="84.00" stroke="#444" stroke-width="0.7"/>
<line x1="63.00" y1="82.20" x2="63.00" y2="85.20" stroke="#444" stroke-width="0.7"/>
<text transform="translate(65.50,91.50) rotate(-45)" font-size="7.8" text-anchor="end" fill="#505050" stroke="#505050" stroke-width="0.22">2.00</text>
<line x1="67.15" y1="82.20" x2="67.15" y2="84.00" stroke="#444" stroke-width="0.7"/>
<line x1="71.30" y1="82.20" x2="71.30" y2="84.00" stroke="#444" stroke-width="0.7"/>
<line x1="75.45" y1="82.20" x2="75.45" y2="84.00" stroke="#444" stroke-width="0.7"/>
<line x1="79.60" y1="82.20" x2="79.60" y2="85.20" stroke="#444" stroke-width="0.7"/>
<text transform="translate(82.10,91.50) rotate(-45)" font-size="7.8" text-anchor="end" fill="#505050" stroke="#505050" stroke-width="0.22">4.00</text>
<line x1="83.75" y1="82.20" x2="83.75" y2="84.00" stroke="#444" stroke-width="0.7"/>
<line x1="87.90" y1="82.20" x2="87.90" y2="84.00" stroke="#444" stroke-width="0.7"/>
<line x1="92.05" y1="82.20" x2="92.05" y2="84.00" stroke="#444" stroke-width="0.7"/>
<line x1="96.20" y1="82.20" x2="96.20" y2="85.20" stroke="#444" stroke-width="0.7"/>
<text transform="translate(98.70,91.50) rotate(-45)" font-size="7.8" text-anchor="end" fill="#505050" stroke="#505050" stroke-width="0.22">6.00</text>
<line x1="100.35" y1="82.20" x2="100.35" y2="84.00" stroke="#444" stroke-width="0.7"/>
<line x1="104.50" y1="82.20" x2="104.50" y2="84.00" stroke="#444" stroke-width="0.7"/>
<line x1="108.65" y1="82.20" x2="108.65" y2="84.00" stroke="#444" stroke-width="0.7"/>
<line x1="112.80" y1="82.20" x2="112.80" y2="85.20" stroke="#444" stroke-width="0.7"/>
<text transform="translate(115.30,91.50) rotate(-45)" font-size="7.8" text-anchor="end" fill="#505050" stroke="#505050" stroke-width="0.22">8.00</text>
<line x1="116.95" y1="82.20" x2="116.95" y2="84.00" stroke="#444" stroke-width="0.7"/>
<line x1="121.10" y1="82.20" x2="121.10" y2="84.00" stroke="#444" stroke-width="0.7"/>
<line x1="125.25" y1="82.20" x2="125.25" y2="84.00" stroke="#444" stroke-width="0.7"/>
<line x1="129.40" y1="82.20" x2="129.40" y2="85.20" stroke="#444" stroke-width="0.7"/>
<text transform="translate(131.90,91.50) rotate(-45)" font-size="7.8" text-anchor="end" fill="#505050" stroke="#505050" stroke-width="0.22">10.00</text>
<line x1="133.55" y1="82.20" x2="133.55" y2="84.00" stroke="#444" stroke-width="0.7"/>
<line x1="137.70" y1="82.20" x2="137.70" y2="84.00" stroke="#444" stroke-width="0.7"/>
<line x1="141.85" y1="82.20" x2="141.85" y2="84.00" stroke="#444" stroke-width="0.7"/>
<line x1="146.00" y1="82.20" x2="146.00" y2="85.20" stroke="#444" stroke-width="0.7"/>
<text transform="translate(148.50,91.50) rotate(-45)" font-size="7.8" text-anchor="end" fill="#505050" stroke="#505050" stroke-width="0.22">12.00</text>
<line x1="150.15" y1="82.20" x2="150.15" y2="84.00" stroke="#444" stroke-width="0.7"/>
<line x1="154.30" y1="82.20" x2="154.30" y2="84.00" stroke="#444" stroke-width="0.7"/>
<line x1="158.45" y1="82.20" x2="158.45" y2="84.00" stroke="#444" stroke-width="0.7"/>
<line x1="162.60" y1="82.20" x2="162.60" y2="85.20" stroke="#444" stroke-width="0.7"/>
<text transform="translate(165.10,91.50) rotate(-45)" font-size="7.8" text-anchor="end" fill="#505050" stroke="#505050" stroke-width="0.22">14.00</text>
<line x1="166.75" y1="82.20" x2="166.75" y2="84.00" stroke="#444" stroke-width="0.7"/>
<line x1="170.90" y1="82.20" x2="170.90" y2="84.00" stroke="#444" stroke-width="0.7"/>
<text transform="translate(109.00,117.80) scale(0.77,1)" font-size="9.2" text-anchor="middle" fill="#333" font-weight="normal"  stroke="#333" stroke-width="0.25">Minutes</text>
<text transform="translate(15.00,50.7) rotate(-90) scale(0.77,1)" font-size="9.4" text-anchor="middle" fill="#333" stroke="#333" stroke-width="0.25">A/U</text>
<polyline points="46.40,79.60 46.65,79.60 46.90,79.60 47.15,79.60 47.40,79.60 47.64,79.60 47.89,79.60 48.14,79.60 48.39,79.60 48.64,79.60 48.89,79.60 49.14,79.60 49.39,79.60 49.64,79.60 49.89,79.60 50.13,79.60 50.38,79.60 50.63,79.60 50.88,79.60 51.13,79.60 51.38,79.60 51.63,79.60 51.88,79.60 52.13,79.60 52.38,79.60 52.62,79.60 52.87,79.60 53.12,79.60 53.37,79.60 53.62,79.60 53.87,79.60 54.12,79.60 54.37,79.60 54.62,79.60 54.87,79.60 55.12,79.60 55.36,79.60 55.61,79.60 55.86,79.60 56.11,79.60 56.36,79.60 56.61,79.60 56.86,79.60 57.11,79.60 57.36,79.60 57.60,79.60 57.85,79.60 58.10,79.60 58.35,79.60 58.60,79.60 58.85,79.60 59.10,79.60 59.35,79.60 59.60,79.60 59.85,79.60 60.09,79.60 60.34,79.60 60.59,79.60 60.84,79.60 61.09,79.60 61.34,79.60 61.59,79.60 61.84,79.60 62.09,79.60 62.34,79.60 62.59,79.60 62.83,79.60 63.08,79.60 63.33,79.60 63.58,79.60 63.83,79.60 64.08,79.60 64.33,79.60 64.58,79.59 64.83,79.58 65.08,79.57 65.32,79.54 65.57,79.50 65.82,79.43 66.07,79.33 66.32,79.19 66.57,79.01 66.82,78.77 67.07,78.47 67.32,78.14 67.56,77.78 67.81,77.42 68.06,77.09 68.31,76.83 68.56,76.66 68.81,76.60 69.06,76.66 69.31,76.83 69.56,77.09 69.81,77.42 70.06,77.78 70.30,78.14 70.55,78.47 70.80,78.77 71.05,79.01 71.30,79.19 71.55,79.33 71.80,79.43 72.05,79.50 72.30,79.54 72.55,79.57 72.79,79.58 73.04,79.59 73.29,79.60 73.54,79.60 73.79,79.60 74.04,79.60 74.29,79.60 74.54,79.60 74.79,79.60 75.03,79.60 75.28,79.60 75.53,79.60 75.78,79.60 76.03,79.60 76.28,79.60 76.53,79.60 76.78,79.60 77.03,79.60 77.28,79.60 77.53,79.59 77.77,79.58 78.02,79.56 78.27,79.52 78.52,79.46 78.77,79.35 79.02,79.19 79.27,78.97 79.52,78.70 79.77,78.38 80.02,78.05 80.26,77.74 80.51,77.52 80.76,77.41 81.01,77.43 81.26,77.58 81.51,77.83 81.76,78.15 82.01,78.47 82.26,78.77 82.50,79.02 82.75,79.19 83.00,79.30 83.25,79.33 83.50,79.30 83.75,79.19 84.00,79.01 84.25,78.73 84.50,78.32 84.75,77.76 85.00,76.99 85.24,75.96 85.49,74.62 85.74,72.91 85.99,70.79 86.24,68.21 86.49,65.14 86.74,61.57 86.99,57.55 87.24,53.13 87.49,48.40 87.73,43.51 87.98,38.62 88.23,33.93 88.48,29.63 88.73,25.94 88.98,23.04 89.23,21.08 89.48,20.16 89.73,20.25 89.97,21.04 90.22,22.48 90.47,24.52 90.72,27.09 90.97,30.12 91.22,33.50 91.47,37.14 91.72,40.94 91.97,44.80 92.22,48.63 92.47,52.36 92.71,55.91 92.96,59.23 93.21,62.29 93.46,65.05 93.71,67.51 93.96,69.67 94.21,71.53 94.46,73.12 94.71,74.44 94.96,75.54 95.20,76.43 95.45,77.14 95.70,77.70 95.95,78.13 96.20,78.45 96.45,78.68 96.70,78.84 96.95,78.94 97.20,78.99 97.44,79.00 97.69,78.98 97.94,78.93 98.19,78.86 98.44,78.77 98.69,78.67 98.94,78.55 99.19,78.43 99.44,78.30 99.69,78.17 99.94,78.04 100.18,77.92 100.43,77.80 100.68,77.69 100.93,77.60 101.18,77.52 101.43,77.46 101.68,77.42 101.93,77.40 102.18,77.40 102.43,77.43 102.67,77.48 102.92,77.54 103.17,77.63 103.42,77.73 103.67,77.84 103.92,77.96 104.17,78.09 104.42,78.22 104.67,78.35 104.91,78.49 105.16,78.61 105.41,78.74 105.66,78.85 105.91,78.96 106.16,79.05 106.41,79.14 106.66,79.21 106.91,79.28 107.16,79.34 107.41,79.39 107.65,79.43 107.90,79.47 108.15,79.49 108.40,79.52 108.65,79.54 108.90,79.55 109.15,79.56 109.40,79.57 109.65,79.58 109.90,79.59 110.14,79.59 110.39,79.59 110.64,79.59 110.89,79.60 111.14,79.60 111.39,79.60 111.64,79.60 111.89,79.60 112.14,79.60 112.39,79.60 112.63,79.60 112.88,79.60 113.13,79.60 113.38,79.60 113.63,79.60 113.88,79.60 114.13,79.60 114.38,79.60 114.63,79.60 114.88,79.59 115.12,79.59 115.37,79.59 115.62,79.58 115.87,79.57 116.12,79.56 116.37,79.54 116.62,79.52 116.87,79.50 117.12,79.46 117.37,79.42 117.61,79.37 117.86,79.31 118.11,79.23 118.36,79.14 118.61,79.04 118.86,78.93 119.11,78.81 119.36,78.67 119.61,78.53 119.85,78.39 120.10,78.24 120.35,78.10 120.60,77.97 120.85,77.85 121.10,77.75 121.35,77.68 121.60,77.63 121.85,77.60 122.10,77.61 122.34,77.64 122.59,77.70 122.84,77.78 123.09,77.89 123.34,78.01 123.59,78.15 123.84,78.29 124.09,78.44 124.34,78.58 124.59,78.72 124.84,78.85 125.08,78.97 125.33,79.08 125.58,79.17 125.83,79.26 126.08,79.33 126.33,79.39 126.58,79.44 126.83,79.48 127.08,79.51 127.33,79.53 127.57,79.55 127.82,79.56 128.07,79.57 128.32,79.58 128.57,79.59 128.82,79.59 129.07,79.59 129.32,79.59 129.57,79.59 129.81,79.59 130.06,79.59 130.31,79.59 130.56,79.59 130.81,79.58 131.06,79.57 131.31,79.56 131.56,79.55 131.81,79.53 132.06,79.51 132.31,79.48 132.55,79.44 132.80,79.39 133.05,79.34 133.30,79.28 133.55,79.21 133.80,79.13 134.05,79.04 134.30,78.95 134.55,78.85 134.79,78.75 135.04,78.65 135.29,78.55 135.54,78.46 135.79,78.38 136.04,78.31 136.29,78.25 136.54,78.22 136.79,78.20 137.04,78.20 137.28,78.23 137.53,78.27 137.78,78.33 138.03,78.40 138.28,78.49 138.53,78.58 138.78,78.68 139.03,78.78 139.28,78.89 139.53,78.98 139.78,79.07 140.02,79.16 140.27,79.24 140.52,79.30 140.77,79.36 141.02,79.41 141.27,79.45 141.52,79.49 141.77,79.51 142.02,79.54 142.27,79.55 142.51,79.57 142.76,79.58 143.01,79.58 143.26,79.59 143.51,79.59 143.76,79.59 144.01,79.60 144.26,79.60 144.51,79.60 144.76,79.60 145.00,79.60 145.25,79.60 145.50,79.60 145.75,79.60 146.00,79.60 146.25,79.60 146.50,79.60 146.75,79.60 147.00,79.60 147.25,79.60 147.49,79.60 147.74,79.60 147.99,79.60 148.24,79.60 148.49,79.60 148.74,79.60 148.99,79.60 149.24,79.60 149.49,79.60 149.74,79.60 149.98,79.60 150.23,79.60 150.48,79.60 150.73,79.60 150.98,79.60 151.23,79.60 151.48,79.60 151.73,79.60 151.98,79.60 152.22,79.60 152.47,79.60 152.72,79.60 152.97,79.60 153.22,79.60 153.47,79.60 153.72,79.60 153.97,79.60 154.22,79.60 154.47,79.60 154.72,79.60 154.96,79.60 155.21,79.60 155.46,79.60 155.71,79.60 155.96,79.60 156.21,79.60 156.46,79.60 156.71,79.60 156.96,79.60 157.21,79.60 157.45,79.60 157.70,79.60 157.95,79.60 158.20,79.60 158.45,79.60 158.70,79.60 158.95,79.60 159.20,79.60 159.45,79.60 159.70,79.60 159.94,79.60 160.19,79.60 160.44,79.60 160.69,79.60 160.94,79.60 161.19,79.60 161.44,79.60 161.69,79.60 161.94,79.60 162.19,79.60 162.43,79.60 162.68,79.60 162.93,79.60 163.18,79.60 163.43,79.60 163.68,79.60 163.93,79.60 164.18,79.60 164.43,79.60 164.68,79.60 164.92,79.60 165.17,79.60 165.42,79.60 165.67,79.60 165.92,79.60 166.17,79.60 166.42,79.60 166.67,79.60 166.92,79.60 167.16,79.60 167.41,79.60 167.66,79.60 167.91,79.60 168.16,79.60 168.41,79.60 168.66,79.60 168.91,79.60 169.16,79.60 169.41,79.60 169.66,79.60 169.90,79.60 170.15,79.60 170.40,79.60 170.65,79.60 170.90,79.60" fill="none" stroke="#555" stroke-width="0.75"/>
<line x1="89.5" y1="19.5" x2="89.5" y2="31" stroke="#4a6a8a" stroke-width="1.6" stroke-dasharray="1,0.7"/>
<text x="50.6" y="30.6" font-size="8.5" fill="#3a3a3a" stroke="#3a3a3a" stroke-width="0.2">Hb<tspan fill="#3d6a94" stroke="#3d6a94">AA</tspan></text><text x="91.4" y="32.8" font-size="8.5" fill="#3d6a94" stroke="#3d6a94" stroke-width="0.2">A</text>
<text x="6.70" y="16.30" font-size="11.6" font-weight="bold" fill="#000" stroke="#000" stroke-width="0.2" stroke-linejoin="round">A</text>
<rect x="217.40" y="18.50" width="124.90" height="63.70" fill="none" stroke="#333" stroke-width="1.1"/>
<line x1="214.40" y1="79.20" x2="217.40" y2="79.20" stroke="#555" stroke-width="0.8"/>
<text transform="translate(211.60,82.35) scale(0.92,1)" font-size="8.8" text-anchor="end" fill="#555" font-weight="normal"  stroke="#555" stroke-width="0.1">0.000</text>
<line x1="214.40" y1="71.10" x2="217.40" y2="71.10" stroke="#555" stroke-width="0.8"/>
<text transform="translate(211.60,74.25) scale(0.92,1)" font-size="8.8" text-anchor="end" fill="#555" font-weight="normal"  stroke="#555" stroke-width="0.1">0.005</text>
<line x1="214.40" y1="63.00" x2="217.40" y2="63.00" stroke="#555" stroke-width="0.8"/>
<text transform="translate(211.60,66.15) scale(0.92,1)" font-size="8.8" text-anchor="end" fill="#555" font-weight="normal"  stroke="#555" stroke-width="0.1">0.010</text>
<line x1="214.40" y1="54.90" x2="217.40" y2="54.90" stroke="#555" stroke-width="0.8"/>
<text transform="translate(211.60,58.05) scale(0.92,1)" font-size="8.8" text-anchor="end" fill="#555" font-weight="normal"  stroke="#555" stroke-width="0.1">0.015</text>
<line x1="214.40" y1="46.80" x2="217.40" y2="46.80" stroke="#555" stroke-width="0.8"/>
<text transform="translate(211.60,49.95) scale(0.92,1)" font-size="8.8" text-anchor="end" fill="#555" font-weight="normal"  stroke="#555" stroke-width="0.1">0.020</text>
<line x1="214.40" y1="38.70" x2="217.40" y2="38.70" stroke="#555" stroke-width="0.8"/>
<text transform="translate(211.60,41.85) scale(0.92,1)" font-size="8.8" text-anchor="end" fill="#555" font-weight="normal"  stroke="#555" stroke-width="0.1">0.025</text>
<line x1="214.40" y1="30.60" x2="217.40" y2="30.60" stroke="#555" stroke-width="0.8"/>
<text transform="translate(211.60,33.75) scale(0.92,1)" font-size="8.8" text-anchor="end" fill="#555" font-weight="normal"  stroke="#555" stroke-width="0.1">0.030</text>
<line x1="214.40" y1="22.50" x2="217.40" y2="22.50" stroke="#555" stroke-width="0.8"/>
<text transform="translate(211.60,25.65) scale(0.92,1)" font-size="8.8" text-anchor="end" fill="#555" font-weight="normal"  stroke="#555" stroke-width="0.1">0.035</text>
<line x1="217.40" y1="82.20" x2="217.40" y2="85.20" stroke="#444" stroke-width="0.7"/>
<text transform="translate(219.90,91.50) rotate(-45)" font-size="7.8" text-anchor="end" fill="#505050" stroke="#505050" stroke-width="0.22">0.00</text>
<line x1="221.55" y1="82.20" x2="221.55" y2="84.00" stroke="#444" stroke-width="0.7"/>
<line x1="225.70" y1="82.20" x2="225.70" y2="84.00" stroke="#444" stroke-width="0.7"/>
<line x1="229.85" y1="82.20" x2="229.85" y2="84.00" stroke="#444" stroke-width="0.7"/>
<line x1="234.00" y1="82.20" x2="234.00" y2="85.20" stroke="#444" stroke-width="0.7"/>
<text transform="translate(236.50,91.50) rotate(-45)" font-size="7.8" text-anchor="end" fill="#505050" stroke="#505050" stroke-width="0.22">2.00</text>
<line x1="238.15" y1="82.20" x2="238.15" y2="84.00" stroke="#444" stroke-width="0.7"/>
<line x1="242.30" y1="82.20" x2="242.30" y2="84.00" stroke="#444" stroke-width="0.7"/>
<line x1="246.45" y1="82.20" x2="246.45" y2="84.00" stroke="#444" stroke-width="0.7"/>
<line x1="250.60" y1="82.20" x2="250.60" y2="85.20" stroke="#444" stroke-width="0.7"/>
<text transform="translate(253.10,91.50) rotate(-45)" font-size="7.8" text-anchor="end" fill="#505050" stroke="#505050" stroke-width="0.22">4.00</text>
<line x1="254.75" y1="82.20" x2="254.75" y2="84.00" stroke="#444" stroke-width="0.7"/>
<line x1="258.90" y1="82.20" x2="258.90" y2="84.00" stroke="#444" stroke-width="0.7"/>
<line x1="263.05" y1="82.20" x2="263.05" y2="84.00" stroke="#444" stroke-width="0.7"/>
<line x1="267.20" y1="82.20" x2="267.20" y2="85.20" stroke="#444" stroke-width="0.7"/>
<text transform="translate(269.70,91.50) rotate(-45)" font-size="7.8" text-anchor="end" fill="#505050" stroke="#505050" stroke-width="0.22">6.00</text>
<line x1="271.35" y1="82.20" x2="271.35" y2="84.00" stroke="#444" stroke-width="0.7"/>
<line x1="275.50" y1="82.20" x2="275.50" y2="84.00" stroke="#444" stroke-width="0.7"/>
<line x1="279.65" y1="82.20" x2="279.65" y2="84.00" stroke="#444" stroke-width="0.7"/>
<line x1="283.80" y1="82.20" x2="283.80" y2="85.20" stroke="#444" stroke-width="0.7"/>
<text transform="translate(286.30,91.50) rotate(-45)" font-size="7.8" text-anchor="end" fill="#505050" stroke="#505050" stroke-width="0.22">8.00</text>
<line x1="287.95" y1="82.20" x2="287.95" y2="84.00" stroke="#444" stroke-width="0.7"/>
<line x1="292.10" y1="82.20" x2="292.10" y2="84.00" stroke="#444" stroke-width="0.7"/>
<line x1="296.25" y1="82.20" x2="296.25" y2="84.00" stroke="#444" stroke-width="0.7"/>
<line x1="300.40" y1="82.20" x2="300.40" y2="85.20" stroke="#444" stroke-width="0.7"/>
<text transform="translate(302.90,91.50) rotate(-45)" font-size="7.8" text-anchor="end" fill="#505050" stroke="#505050" stroke-width="0.22">10.00</text>
<line x1="304.55" y1="82.20" x2="304.55" y2="84.00" stroke="#444" stroke-width="0.7"/>
<line x1="308.70" y1="82.20" x2="308.70" y2="84.00" stroke="#444" stroke-width="0.7"/>
<line x1="312.85" y1="82.20" x2="312.85" y2="84.00" stroke="#444" stroke-width="0.7"/>
<line x1="317.00" y1="82.20" x2="317.00" y2="85.20" stroke="#444" stroke-width="0.7"/>
<text transform="translate(319.50,91.50) rotate(-45)" font-size="7.8" text-anchor="end" fill="#505050" stroke="#505050" stroke-width="0.22">12.00</text>
<line x1="321.15" y1="82.20" x2="321.15" y2="84.00" stroke="#444" stroke-width="0.7"/>
<line x1="325.30" y1="82.20" x2="325.30" y2="84.00" stroke="#444" stroke-width="0.7"/>
<line x1="329.45" y1="82.20" x2="329.45" y2="84.00" stroke="#444" stroke-width="0.7"/>
<line x1="333.60" y1="82.20" x2="333.60" y2="85.20" stroke="#444" stroke-width="0.7"/>
<text transform="translate(336.10,91.50) rotate(-45)" font-size="7.8" text-anchor="end" fill="#505050" stroke="#505050" stroke-width="0.22">14.00</text>
<line x1="337.75" y1="82.20" x2="337.75" y2="84.00" stroke="#444" stroke-width="0.7"/>
<line x1="341.90" y1="82.20" x2="341.90" y2="84.00" stroke="#444" stroke-width="0.7"/>
<text transform="translate(279.85,117.80) scale(0.77,1)" font-size="9.2" text-anchor="middle" fill="#333" font-weight="normal"  stroke="#333" stroke-width="0.25">Minutes</text>
<text transform="translate(185.80,50.7) rotate(-90) scale(0.77,1)" font-size="9.4" text-anchor="middle" fill="#333" stroke="#333" stroke-width="0.25">A/U</text>
<polyline points="217.40,75.54 217.65,73.74 217.90,72.14 218.15,71.26 218.40,71.45 218.65,72.62 218.89,74.35 219.14,76.09 219.39,77.47 219.64,78.36 219.89,78.85 220.14,79.07 220.39,79.16 220.64,79.19 220.89,79.20 221.14,79.20 221.38,79.20 221.63,79.20 221.88,79.20 222.13,79.20 222.38,79.20 222.63,79.20 222.88,79.20 223.13,79.20 223.38,79.20 223.62,79.20 223.87,79.20 224.12,79.20 224.37,79.20 224.62,79.20 224.87,79.20 225.12,79.20 225.37,79.20 225.62,79.20 225.87,79.20 226.12,79.20 226.36,79.20 226.61,79.20 226.86,79.20 227.11,79.20 227.36,79.20 227.61,79.20 227.86,79.20 228.11,79.20 228.36,79.20 228.61,79.20 228.85,79.20 229.10,79.20 229.35,79.20 229.60,79.20 229.85,79.20 230.10,79.20 230.35,79.20 230.60,79.20 230.85,79.20 231.09,79.20 231.34,79.20 231.59,79.20 231.84,79.20 232.09,79.20 232.34,79.20 232.59,79.20 232.84,79.20 233.09,79.20 233.34,79.20 233.59,79.20 233.83,79.20 234.08,79.20 234.33,79.20 234.58,79.20 234.83,79.20 235.08,79.20 235.33,79.20 235.58,79.20 235.83,79.20 236.08,79.20 236.32,79.20 236.57,79.20 236.82,79.20 237.07,79.20 237.32,79.20 237.57,79.20 237.82,79.20 238.07,79.20 238.32,79.20 238.56,79.20 238.81,79.20 239.06,79.20 239.31,79.20 239.56,79.20 239.81,79.20 240.06,79.20 240.31,79.20 240.56,79.20 240.81,79.20 241.06,79.20 241.30,79.20 241.55,79.20 241.80,79.20 242.05,79.20 242.30,79.20 242.55,79.20 242.80,79.20 243.05,79.20 243.30,79.20 243.55,79.20 243.79,79.20 244.04,79.20 244.29,79.20 244.54,79.20 244.79,79.20 245.04,79.20 245.29,79.20 245.54,79.20 245.79,79.20 246.04,79.20 246.28,79.20 246.53,79.20 246.78,79.20 247.03,79.20 247.28,79.20 247.53,79.20 247.78,79.20 248.03,79.20 248.28,79.20 248.53,79.19 248.77,79.19 249.02,79.19 249.27,79.18 249.52,79.17 249.77,79.16 250.02,79.14 250.27,79.11 250.52,79.08 250.77,79.04 251.02,78.98 251.26,78.92 251.51,78.85 251.76,78.77 252.01,78.68 252.26,78.59 252.51,78.50 252.76,78.42 253.01,78.34 253.26,78.28 253.50,78.23 253.75,78.20 254.00,78.20 254.25,78.22 254.50,78.26 254.75,78.32 255.00,78.39 255.25,78.47 255.50,78.56 255.75,78.65 256.00,78.74 256.24,78.82 256.49,78.90 256.74,78.96 256.99,79.02 257.24,79.06 257.49,79.10 257.74,79.13 257.99,79.15 258.24,79.17 258.49,79.18 258.73,79.19 258.98,79.19 259.23,79.19 259.48,79.20 259.73,79.20 259.98,79.20 260.23,79.20 260.48,79.20 260.73,79.20 260.98,79.20 261.22,79.20 261.47,79.20 261.72,79.20 261.97,79.20 262.22,79.20 262.47,79.20 262.72,79.20 262.97,79.20 263.22,79.20 263.47,79.20 263.71,79.20 263.96,79.20 264.21,79.20 264.46,79.20 264.71,79.20 264.96,79.20 265.21,79.20 265.46,79.20 265.71,79.20 265.96,79.20 266.20,79.20 266.45,79.20 266.70,79.20 266.95,79.20 267.20,79.20 267.45,79.20 267.70,79.20 267.95,79.20 268.20,79.20 268.44,79.20 268.69,79.20 268.94,79.20 269.19,79.20 269.44,79.20 269.69,79.20 269.94,79.20 270.19,79.20 270.44,79.20 270.69,79.20 270.94,79.20 271.18,79.20 271.43,79.20 271.68,79.20 271.93,79.20 272.18,79.20 272.43,79.20 272.68,79.20 272.93,79.20 273.18,79.20 273.43,79.20 273.67,79.19 273.92,79.19 274.17,79.18 274.42,79.18 274.67,79.16 274.92,79.15 275.17,79.13 275.42,79.10 275.67,79.07 275.92,79.03 276.16,78.98 276.41,78.92 276.66,78.86 276.91,78.79 277.16,78.71 277.41,78.64 277.66,78.57 277.91,78.51 278.16,78.46 278.41,78.42 278.65,78.40 278.90,78.40 279.15,78.42 279.40,78.45 279.65,78.49 279.90,78.55 280.15,78.62 280.40,78.69 280.65,78.76 280.90,78.83 281.14,78.90 281.39,78.96 281.64,79.01 281.89,79.06 282.14,79.09 282.39,79.12 282.64,79.14 282.89,79.16 283.14,79.17 283.38,79.18 283.63,79.18 283.88,79.18 284.13,79.17 284.38,79.15 284.63,79.12 284.88,79.07 285.13,79.00 285.38,78.89 285.63,78.72 285.88,78.47 286.12,78.13 286.37,77.64 286.62,76.97 286.87,76.07 287.12,74.89 287.37,73.38 287.62,71.49 287.87,69.16 288.12,66.38 288.37,63.12 288.61,59.41 288.86,55.29 289.11,50.85 289.36,46.20 289.61,41.49 289.86,36.91 290.11,32.65 290.36,28.90 290.61,25.85 290.86,23.65 291.10,22.44 291.35,22.27 291.60,23.33 291.85,25.59 292.10,28.90 292.35,33.05 292.60,37.81 292.85,42.90 293.10,48.07 293.35,53.10 293.59,57.81 293.84,62.05 294.09,65.76 294.34,68.90 294.59,71.49 294.84,73.55 295.09,75.15 295.34,76.37 295.59,77.26 295.84,77.90 296.08,78.35 296.33,78.66 296.58,78.86 296.83,78.99 297.08,79.08 297.33,79.13 297.58,79.16 297.83,79.18 298.08,79.19 298.33,79.19 298.57,79.20 298.82,79.20 299.07,79.20 299.32,79.20 299.57,79.20 299.82,79.20 300.07,79.20 300.32,79.20 300.57,79.19 300.81,79.19 301.06,79.18 301.31,79.16 301.56,79.13 301.81,79.09 302.06,79.03 302.31,78.93 302.56,78.78 302.81,78.56 303.06,78.25 303.31,77.81 303.55,77.20 303.80,76.37 304.05,75.29 304.30,73.88 304.55,72.10 304.80,69.91 305.05,67.25 305.30,64.13 305.55,60.53 305.80,56.51 306.04,52.12 306.29,47.49 306.54,42.74 306.79,38.06 307.04,33.63 307.29,29.65 307.54,26.32 307.79,23.80 308.04,22.23 308.29,21.70 308.53,22.34 308.78,24.23 309.03,27.24 309.28,31.17 309.53,35.80 309.78,40.85 310.03,46.07 310.28,51.21 310.53,56.08 310.78,60.53 311.02,64.46 311.27,67.82 311.52,70.61 311.77,72.86 312.02,74.63 312.27,75.97 312.52,76.97 312.77,77.70 313.02,78.21 313.26,78.56 313.51,78.80 313.76,78.95 314.01,79.05 314.26,79.11 314.51,79.15 314.76,79.17 315.01,79.18 315.26,79.19 315.51,79.20 315.75,79.20 316.00,79.20 316.25,79.20 316.50,79.20 316.75,79.20 317.00,79.20 317.25,79.20 317.50,79.20 317.75,79.20 318.00,79.20 318.25,79.20 318.49,79.20 318.74,79.20 318.99,79.20 319.24,79.20 319.49,79.20 319.74,79.20 319.99,79.20 320.24,79.20 320.49,79.20 320.74,79.20 320.98,79.20 321.23,79.20 321.48,79.20 321.73,79.20 321.98,79.20 322.23,79.20 322.48,79.20 322.73,79.20 322.98,79.20 323.23,79.20 323.47,79.20 323.72,79.20 323.97,79.20 324.22,79.20 324.47,79.20 324.72,79.20 324.97,79.20 325.22,79.20 325.47,79.20 325.72,79.20 325.96,79.20 326.21,79.20 326.46,79.20 326.71,79.20 326.96,79.20 327.21,79.20 327.46,79.20 327.71,79.20 327.96,79.20 328.21,79.20 328.45,79.20 328.70,79.20 328.95,79.20 329.20,79.20 329.45,79.20 329.70,79.20 329.95,79.20 330.20,79.20 330.45,79.20 330.70,79.20 330.94,79.20 331.19,79.20 331.44,79.20 331.69,79.20 331.94,79.20 332.19,79.20 332.44,79.20 332.69,79.20 332.94,79.20 333.19,79.20 333.43,79.20 333.68,79.20 333.93,79.20 334.18,79.20 334.43,79.20 334.68,79.20 334.93,79.20 335.18,79.20 335.43,79.20 335.68,79.20 335.92,79.20 336.17,79.20 336.42,79.20 336.67,79.20 336.92,79.20 337.17,79.20 337.42,79.20 337.67,79.20 337.92,79.20 338.17,79.20 338.41,79.20 338.66,79.20 338.91,79.20 339.16,79.20 339.41,79.20 339.66,79.20 339.91,79.20 340.16,79.20 340.41,79.20 340.66,79.20 340.90,79.20 341.15,79.20 341.40,79.20 341.65,79.20" fill="none" stroke="#555" stroke-width="0.75"/>
<line x1="291.2" y1="21.5" x2="291.2" y2="31.5" stroke="#3a5a80" stroke-width="1.6" stroke-dasharray="1,0.7"/>
<line x1="308" y1="21" x2="308" y2="31" stroke="#a0aab4" stroke-width="1.6" stroke-dasharray="1,0.7"/>
<text x="226.6" y="30.4" font-size="8.5" fill="#3a3a3a" stroke="#3a3a3a" stroke-width="0.2">Hb<tspan fill="#d2237a" stroke="#d2237a">S</tspan><tspan fill="#3f7a62" stroke="#3f7a62">C</tspan></text><text x="284.6" y="40.3" font-size="8.5" fill="#d2237a" stroke="#d2237a" stroke-width="0.2">S</text><text x="310.8" y="40.3" font-size="8.5" fill="#3f7a62" stroke="#3f7a62" stroke-width="0.2">C</text>
<text x="177.40" y="16.70" font-size="11.6" font-weight="bold" fill="#000" stroke="#000" stroke-width="0.2" stroke-linejoin="round">B</text>
<rect x="387.60" y="18.50" width="125.00" height="63.70" fill="none" stroke="#333" stroke-width="1.1"/>
<line x1="384.60" y1="79.60" x2="387.60" y2="79.60" stroke="#555" stroke-width="0.8"/>
<text transform="translate(381.80,82.75) scale(0.92,1)" font-size="8.8" text-anchor="end" fill="#555" font-weight="normal"  stroke="#555" stroke-width="0.1">0.000</text>
<line x1="384.60" y1="73.22" x2="387.60" y2="73.22" stroke="#555" stroke-width="0.8"/>
<text transform="translate(381.80,76.37) scale(0.92,1)" font-size="8.8" text-anchor="end" fill="#555" font-weight="normal"  stroke="#555" stroke-width="0.1">0.005</text>
<line x1="384.60" y1="66.84" x2="387.60" y2="66.84" stroke="#555" stroke-width="0.8"/>
<text transform="translate(381.80,69.99) scale(0.92,1)" font-size="8.8" text-anchor="end" fill="#555" font-weight="normal"  stroke="#555" stroke-width="0.1">0.010</text>
<line x1="384.60" y1="60.46" x2="387.60" y2="60.46" stroke="#555" stroke-width="0.8"/>
<text transform="translate(381.80,63.61) scale(0.92,1)" font-size="8.8" text-anchor="end" fill="#555" font-weight="normal"  stroke="#555" stroke-width="0.1">0.015</text>
<line x1="384.60" y1="54.08" x2="387.60" y2="54.08" stroke="#555" stroke-width="0.8"/>
<text transform="translate(381.80,57.23) scale(0.92,1)" font-size="8.8" text-anchor="end" fill="#555" font-weight="normal"  stroke="#555" stroke-width="0.1">0.020</text>
<line x1="384.60" y1="47.70" x2="387.60" y2="47.70" stroke="#555" stroke-width="0.8"/>
<text transform="translate(381.80,50.85) scale(0.92,1)" font-size="8.8" text-anchor="end" fill="#555" font-weight="normal"  stroke="#555" stroke-width="0.1">0.025</text>
<line x1="384.60" y1="41.32" x2="387.60" y2="41.32" stroke="#555" stroke-width="0.8"/>
<text transform="translate(381.80,44.47) scale(0.92,1)" font-size="8.8" text-anchor="end" fill="#555" font-weight="normal"  stroke="#555" stroke-width="0.1">0.030</text>
<line x1="384.60" y1="34.94" x2="387.60" y2="34.94" stroke="#555" stroke-width="0.8"/>
<text transform="translate(381.80,38.09) scale(0.92,1)" font-size="8.8" text-anchor="end" fill="#555" font-weight="normal"  stroke="#555" stroke-width="0.1">0.035</text>
<line x1="384.60" y1="28.56" x2="387.60" y2="28.56" stroke="#555" stroke-width="0.8"/>
<text transform="translate(381.80,31.71) scale(0.92,1)" font-size="8.8" text-anchor="end" fill="#555" font-weight="normal"  stroke="#555" stroke-width="0.1">0.040</text>
<line x1="384.60" y1="22.18" x2="387.60" y2="22.18" stroke="#555" stroke-width="0.8"/>
<text transform="translate(381.80,25.33) scale(0.92,1)" font-size="8.8" text-anchor="end" fill="#555" font-weight="normal"  stroke="#555" stroke-width="0.1">0.045</text>
<line x1="387.60" y1="82.20" x2="387.60" y2="85.20" stroke="#444" stroke-width="0.7"/>
<text transform="translate(390.10,91.50) rotate(-45)" font-size="7.8" text-anchor="end" fill="#505050" stroke="#505050" stroke-width="0.22">0.00</text>
<line x1="391.75" y1="82.20" x2="391.75" y2="84.00" stroke="#444" stroke-width="0.7"/>
<line x1="395.90" y1="82.20" x2="395.90" y2="84.00" stroke="#444" stroke-width="0.7"/>
<line x1="400.05" y1="82.20" x2="400.05" y2="84.00" stroke="#444" stroke-width="0.7"/>
<line x1="404.20" y1="82.20" x2="404.20" y2="85.20" stroke="#444" stroke-width="0.7"/>
<text transform="translate(406.70,91.50) rotate(-45)" font-size="7.8" text-anchor="end" fill="#505050" stroke="#505050" stroke-width="0.22">2.00</text>
<line x1="408.35" y1="82.20" x2="408.35" y2="84.00" stroke="#444" stroke-width="0.7"/>
<line x1="412.50" y1="82.20" x2="412.50" y2="84.00" stroke="#444" stroke-width="0.7"/>
<line x1="416.65" y1="82.20" x2="416.65" y2="84.00" stroke="#444" stroke-width="0.7"/>
<line x1="420.80" y1="82.20" x2="420.80" y2="85.20" stroke="#444" stroke-width="0.7"/>
<text transform="translate(423.30,91.50) rotate(-45)" font-size="7.8" text-anchor="end" fill="#505050" stroke="#505050" stroke-width="0.22">4.00</text>
<line x1="424.95" y1="82.20" x2="424.95" y2="84.00" stroke="#444" stroke-width="0.7"/>
<line x1="429.10" y1="82.20" x2="429.10" y2="84.00" stroke="#444" stroke-width="0.7"/>
<line x1="433.25" y1="82.20" x2="433.25" y2="84.00" stroke="#444" stroke-width="0.7"/>
<line x1="437.40" y1="82.20" x2="437.40" y2="85.20" stroke="#444" stroke-width="0.7"/>
<text transform="translate(439.90,91.50) rotate(-45)" font-size="7.8" text-anchor="end" fill="#505050" stroke="#505050" stroke-width="0.22">6.00</text>
<line x1="441.55" y1="82.20" x2="441.55" y2="84.00" stroke="#444" stroke-width="0.7"/>
<line x1="445.70" y1="82.20" x2="445.70" y2="84.00" stroke="#444" stroke-width="0.7"/>
<line x1="449.85" y1="82.20" x2="449.85" y2="84.00" stroke="#444" stroke-width="0.7"/>
<line x1="454.00" y1="82.20" x2="454.00" y2="85.20" stroke="#444" stroke-width="0.7"/>
<text transform="translate(456.50,91.50) rotate(-45)" font-size="7.8" text-anchor="end" fill="#505050" stroke="#505050" stroke-width="0.22">8.00</text>
<line x1="458.15" y1="82.20" x2="458.15" y2="84.00" stroke="#444" stroke-width="0.7"/>
<line x1="462.30" y1="82.20" x2="462.30" y2="84.00" stroke="#444" stroke-width="0.7"/>
<line x1="466.45" y1="82.20" x2="466.45" y2="84.00" stroke="#444" stroke-width="0.7"/>
<line x1="470.60" y1="82.20" x2="470.60" y2="85.20" stroke="#444" stroke-width="0.7"/>
<text transform="translate(473.10,91.50) rotate(-45)" font-size="7.8" text-anchor="end" fill="#505050" stroke="#505050" stroke-width="0.22">10.00</text>
<line x1="474.75" y1="82.20" x2="474.75" y2="84.00" stroke="#444" stroke-width="0.7"/>
<line x1="478.90" y1="82.20" x2="478.90" y2="84.00" stroke="#444" stroke-width="0.7"/>
<line x1="483.05" y1="82.20" x2="483.05" y2="84.00" stroke="#444" stroke-width="0.7"/>
<line x1="487.20" y1="82.20" x2="487.20" y2="85.20" stroke="#444" stroke-width="0.7"/>
<text transform="translate(489.70,91.50) rotate(-45)" font-size="7.8" text-anchor="end" fill="#505050" stroke="#505050" stroke-width="0.22">12.00</text>
<line x1="491.35" y1="82.20" x2="491.35" y2="84.00" stroke="#444" stroke-width="0.7"/>
<line x1="495.50" y1="82.20" x2="495.50" y2="84.00" stroke="#444" stroke-width="0.7"/>
<line x1="499.65" y1="82.20" x2="499.65" y2="84.00" stroke="#444" stroke-width="0.7"/>
<line x1="503.80" y1="82.20" x2="503.80" y2="85.20" stroke="#444" stroke-width="0.7"/>
<text transform="translate(506.30,91.50) rotate(-45)" font-size="7.8" text-anchor="end" fill="#505050" stroke="#505050" stroke-width="0.22">14.00</text>
<line x1="507.95" y1="82.20" x2="507.95" y2="84.00" stroke="#444" stroke-width="0.7"/>
<line x1="512.10" y1="82.20" x2="512.10" y2="84.00" stroke="#444" stroke-width="0.7"/>
<text transform="translate(450.10,117.80) scale(0.77,1)" font-size="9.2" text-anchor="middle" fill="#333" font-weight="normal"  stroke="#333" stroke-width="0.25">Minutes</text>
<text transform="translate(356.80,50.7) rotate(-90) scale(0.77,1)" font-size="9.4" text-anchor="middle" fill="#333" stroke="#333" stroke-width="0.25">A/U</text>
<polyline points="387.60,79.21 387.85,79.12 388.10,79.02 388.35,78.91 388.60,78.80 388.85,78.69 389.09,78.60 389.34,78.52 389.59,78.45 389.84,78.41 390.09,78.40 390.34,78.41 390.59,78.45 390.84,78.52 391.09,78.60 391.34,78.69 391.58,78.80 391.83,78.91 392.08,79.02 392.33,79.12 392.58,79.21 392.83,79.29 393.08,79.36 393.33,79.41 393.58,79.46 393.83,79.49 394.07,79.51 394.32,79.51 394.57,79.51 394.82,79.50 395.07,79.48 395.32,79.45 395.57,79.41 395.82,79.36 396.07,79.30 396.31,79.23 396.56,79.16 396.81,79.09 397.06,79.02 397.31,78.95 397.56,78.89 397.81,78.85 398.06,78.82 398.31,78.80 398.56,78.80 398.81,78.82 399.05,78.86 399.30,78.91 399.55,78.97 399.80,79.04 400.05,79.11 400.30,79.19 400.55,79.26 400.80,79.32 401.05,79.38 401.30,79.43 401.54,79.47 401.79,79.50 402.04,79.53 402.29,79.55 402.54,79.56 402.79,79.58 403.04,79.58 403.29,79.59 403.54,79.59 403.79,79.60 404.03,79.60 404.28,79.60 404.53,79.60 404.78,79.60 405.03,79.60 405.28,79.60 405.53,79.60 405.78,79.60 406.03,79.60 406.28,79.60 406.52,79.60 406.77,79.60 407.02,79.60 407.27,79.60 407.52,79.60 407.77,79.60 408.02,79.60 408.27,79.60 408.52,79.60 408.77,79.60 409.01,79.60 409.26,79.60 409.51,79.60 409.76,79.60 410.01,79.60 410.26,79.60 410.51,79.60 410.76,79.60 411.01,79.60 411.25,79.60 411.50,79.60 411.75,79.60 412.00,79.60 412.25,79.60 412.50,79.60 412.75,79.60 413.00,79.60 413.25,79.60 413.50,79.60 413.75,79.60 413.99,79.60 414.24,79.60 414.49,79.60 414.74,79.60 414.99,79.60 415.24,79.60 415.49,79.60 415.74,79.60 415.99,79.60 416.24,79.60 416.48,79.60 416.73,79.60 416.98,79.60 417.23,79.60 417.48,79.60 417.73,79.59 417.98,79.59 418.23,79.59 418.48,79.58 418.73,79.57 418.97,79.55 419.22,79.53 419.47,79.49 419.72,79.45 419.97,79.40 420.22,79.33 420.47,79.25 420.72,79.15 420.97,79.04 421.22,78.91 421.46,78.78 421.71,78.64 421.96,78.51 422.21,78.39 422.46,78.28 422.71,78.19 422.96,78.13 423.21,78.10 423.46,78.11 423.71,78.15 423.95,78.22 424.20,78.31 424.45,78.43 424.70,78.55 424.95,78.69 425.20,78.83 425.45,78.95 425.70,79.07 425.95,79.18 426.20,79.27 426.44,79.35 426.69,79.41 426.94,79.45 427.19,79.48 427.44,79.50 427.69,79.50 427.94,79.50 428.19,79.48 428.44,79.45 428.69,79.42 428.93,79.37 429.18,79.31 429.43,79.24 429.68,79.17 429.93,79.09 430.18,79.02 430.43,78.94 430.68,78.87 430.93,78.80 431.18,78.75 431.42,78.70 431.67,78.67 431.92,78.66 432.17,78.65 432.42,78.65 432.67,78.66 432.92,78.66 433.17,78.67 433.42,78.66 433.67,78.65 433.91,78.62 434.16,78.59 434.41,78.54 434.66,78.47 434.91,78.40 435.16,78.32 435.41,78.24 435.66,78.15 435.91,78.07 436.16,77.99 436.40,77.93 436.65,77.87 436.90,77.83 437.15,77.81 437.40,77.80 437.65,77.81 437.90,77.83 438.15,77.88 438.40,77.94 438.65,78.01 438.89,78.10 439.14,78.19 439.39,78.29 439.64,78.40 439.89,78.51 440.14,78.61 440.39,78.72 440.64,78.82 440.89,78.91 441.14,79.00 441.38,79.08 441.63,79.15 441.88,79.21 442.13,79.25 442.38,79.28 442.63,79.30 442.88,79.31 443.13,79.30 443.38,79.27 443.62,79.22 443.87,79.14 444.12,79.04 444.37,78.90 444.62,78.73 444.87,78.51 445.12,78.23 445.37,77.89 445.62,77.48 445.87,76.98 446.12,76.39 446.36,75.69 446.61,74.86 446.86,73.91 447.11,72.81 447.36,71.55 447.61,70.12 447.86,68.52 448.11,66.73 448.36,64.76 448.61,62.61 448.85,60.28 449.10,57.79 449.35,55.14 449.60,52.36 449.85,49.47 450.10,46.51 450.35,43.51 450.60,40.51 450.85,37.55 451.10,34.69 451.34,31.96 451.59,29.41 451.84,27.09 452.09,25.05 452.34,23.32 452.59,21.93 452.84,20.92 453.09,20.31 453.34,20.10 453.59,21.28 453.83,24.67 454.08,29.90 454.33,36.39 454.58,43.51 454.83,50.64 455.08,57.27 455.33,63.06 455.58,67.83 455.83,71.55 456.08,74.31 456.32,76.26 456.57,77.57 456.82,78.42 457.07,78.94 457.32,79.24 457.57,79.42 457.82,79.51 458.07,79.56 458.32,79.58 458.57,79.59 458.81,79.60 459.06,79.60 459.31,79.60 459.56,79.60 459.81,79.60 460.06,79.60 460.31,79.60 460.56,79.60 460.81,79.60 461.06,79.60 461.30,79.60 461.55,79.60 461.80,79.60 462.05,79.60 462.30,79.60 462.55,79.60 462.80,79.60 463.05,79.60 463.30,79.60 463.55,79.60 463.79,79.60 464.04,79.60 464.29,79.60 464.54,79.60 464.79,79.60 465.04,79.60 465.29,79.60 465.54,79.60 465.79,79.60 466.04,79.60 466.28,79.60 466.53,79.60 466.78,79.60 467.03,79.60 467.28,79.60 467.53,79.60 467.78,79.60 468.03,79.60 468.28,79.60 468.53,79.60 468.77,79.60 469.02,79.60 469.27,79.60 469.52,79.60 469.77,79.60 470.02,79.60 470.27,79.60 470.52,79.60 470.77,79.60 471.02,79.60 471.26,79.60 471.51,79.60 471.76,79.60 472.01,79.60 472.26,79.60 472.51,79.60 472.76,79.60 473.01,79.60 473.26,79.60 473.50,79.60 473.75,79.60 474.00,79.60 474.25,79.60 474.50,79.60 474.75,79.60 475.00,79.60 475.25,79.60 475.50,79.60 475.75,79.60 476.00,79.60 476.24,79.60 476.49,79.60 476.74,79.60 476.99,79.60 477.24,79.60 477.49,79.60 477.74,79.60 477.99,79.60 478.24,79.60 478.49,79.60 478.73,79.60 478.98,79.60 479.23,79.60 479.48,79.60 479.73,79.60 479.98,79.60 480.23,79.60 480.48,79.60 480.73,79.60 480.98,79.60 481.22,79.60 481.47,79.60 481.72,79.60 481.97,79.60 482.22,79.60 482.47,79.60 482.72,79.60 482.97,79.60 483.22,79.60 483.47,79.60 483.71,79.60 483.96,79.60 484.21,79.60 484.46,79.60 484.71,79.60 484.96,79.60 485.21,79.60 485.46,79.60 485.71,79.60 485.96,79.60 486.20,79.60 486.45,79.60 486.70,79.60 486.95,79.60 487.20,79.60 487.45,79.60 487.70,79.60 487.95,79.60 488.20,79.60 488.45,79.60 488.69,79.60 488.94,79.60 489.19,79.60 489.44,79.60 489.69,79.60 489.94,79.60 490.19,79.60 490.44,79.60 490.69,79.60 490.94,79.60 491.18,79.60 491.43,79.60 491.68,79.60 491.93,79.60 492.18,79.60 492.43,79.60 492.68,79.60 492.93,79.60 493.18,79.60 493.43,79.60 493.67,79.60 493.92,79.60 494.17,79.60 494.42,79.60 494.67,79.60 494.92,79.60 495.17,79.60 495.42,79.60 495.67,79.60 495.92,79.60 496.16,79.60 496.41,79.60 496.66,79.60 496.91,79.60 497.16,79.60 497.41,79.60 497.66,79.60 497.91,79.60 498.16,79.60 498.41,79.60 498.65,79.60 498.90,79.60 499.15,79.60 499.40,79.60 499.65,79.60 499.90,79.60 500.15,79.60 500.40,79.60 500.65,79.60 500.90,79.60 501.14,79.60 501.39,79.60 501.64,79.60 501.89,79.60 502.14,79.60 502.39,79.60 502.64,79.60 502.89,79.60 503.14,79.60 503.39,79.60 503.63,79.60 503.88,79.60 504.13,79.60 504.38,79.60 504.63,79.60 504.88,79.60 505.13,79.60 505.38,79.60 505.63,79.60 505.88,79.60 506.12,79.60 506.37,79.60 506.62,79.60 506.87,79.60 507.12,79.60 507.37,79.60 507.62,79.60 507.87,79.60 508.12,79.60 508.37,79.60 508.61,79.60 508.86,79.60 509.11,79.60 509.36,79.60 509.61,79.60 509.86,79.60 510.11,79.60 510.36,79.60 510.61,79.60 510.86,79.60 511.10,79.60 511.35,79.60 511.60,79.60 511.85,79.60 512.10,79.60" fill="none" stroke="#555" stroke-width="0.75"/>
<line x1="453.5" y1="20" x2="453.5" y2="30" stroke="#3e6070" stroke-width="1.6" stroke-dasharray="1,0.7"/>
<text transform="translate(393.6,30.2) scale(0.9,1)" font-size="8.5" fill="#3a3a3a" stroke="#3a3a3a" stroke-width="0.2">Hb<tspan fill="#d2237a" stroke="#d2237a">SS</tspan></text><text x="445.2" y="30.3" font-size="8.2" fill="#d2237a" stroke="#d2237a" stroke-width="0.2">S</text>
<text x="347.40" y="16.70" font-size="11.6" font-weight="bold" fill="#000" stroke="#000" stroke-width="0.2" stroke-linejoin="round">C</text>
<line x1="248.80" y1="501.75" x2="342.10" y2="501.75" stroke="#c4c4c4" stroke-width="0.7"/>
<line x1="275.50" y1="501.75" x2="275.50" y2="553.90" stroke="#e6b3cc" stroke-width="0.7"/>
<line x1="342.10" y1="501.75" x2="342.10" y2="553.90" stroke="#c4c4c4" stroke-width="0.7"/>
<line x1="248.80" y1="446.50" x2="248.80" y2="554.50" stroke="#2e2e2e" stroke-width="1.3"/>
<line x1="248.20" y1="553.90" x2="352.30" y2="553.90" stroke="#2e2e2e" stroke-width="1.3"/>
<line x1="245.60" y1="554.40" x2="248.80" y2="554.40" stroke="#2e2e2e" stroke-width="1"/>
<text transform="translate(242.60,557.40) scale(0.9,1)" font-size="8.4" text-anchor="end" fill="#2a2a2a" font-weight="normal"  stroke="#2a2a2a" stroke-width="0.06">0</text>
<line x1="245.60" y1="528.07" x2="248.80" y2="528.07" stroke="#2e2e2e" stroke-width="1"/>
<text transform="translate(242.60,531.07) scale(0.9,1)" font-size="8.4" text-anchor="end" fill="#2a2a2a" font-weight="normal"  stroke="#2a2a2a" stroke-width="0.06">25</text>
<line x1="245.60" y1="501.75" x2="248.80" y2="501.75" stroke="#2e2e2e" stroke-width="1"/>
<text transform="translate(242.60,504.75) scale(0.9,1)" font-size="8.4" text-anchor="end" fill="#2a2a2a" font-weight="normal"  stroke="#2a2a2a" stroke-width="0.06">50</text>
<line x1="245.60" y1="475.42" x2="248.80" y2="475.42" stroke="#2e2e2e" stroke-width="1"/>
<text transform="translate(242.60,478.42) scale(0.9,1)" font-size="8.4" text-anchor="end" fill="#2a2a2a" font-weight="normal"  stroke="#2a2a2a" stroke-width="0.06">75</text>
<line x1="245.60" y1="449.10" x2="248.80" y2="449.10" stroke="#2e2e2e" stroke-width="1"/>
<text transform="translate(242.60,452.10) scale(0.9,1)" font-size="8.4" text-anchor="end" fill="#2a2a2a" font-weight="normal"  stroke="#2a2a2a" stroke-width="0.06">100</text>
<line x1="251.33" y1="553.90" x2="251.33" y2="555.30" stroke="#2e2e2e" stroke-width="0.6"/>
<line x1="253.85" y1="553.90" x2="253.85" y2="555.30" stroke="#2e2e2e" stroke-width="0.6"/>
<line x1="256.38" y1="553.90" x2="256.38" y2="555.30" stroke="#2e2e2e" stroke-width="0.6"/>
<line x1="261.43" y1="553.90" x2="261.43" y2="555.30" stroke="#2e2e2e" stroke-width="0.6"/>
<line x1="263.95" y1="553.90" x2="263.95" y2="555.30" stroke="#2e2e2e" stroke-width="0.6"/>
<line x1="266.48" y1="553.90" x2="266.48" y2="555.30" stroke="#2e2e2e" stroke-width="0.6"/>
<line x1="271.53" y1="553.90" x2="271.53" y2="555.30" stroke="#2e2e2e" stroke-width="0.6"/>
<line x1="274.05" y1="553.90" x2="274.05" y2="555.30" stroke="#2e2e2e" stroke-width="0.6"/>
<line x1="276.57" y1="553.90" x2="276.57" y2="555.30" stroke="#2e2e2e" stroke-width="0.6"/>
<line x1="281.62" y1="553.90" x2="281.62" y2="555.30" stroke="#2e2e2e" stroke-width="0.6"/>
<line x1="284.15" y1="553.90" x2="284.15" y2="555.30" stroke="#2e2e2e" stroke-width="0.6"/>
<line x1="286.68" y1="553.90" x2="286.68" y2="555.30" stroke="#2e2e2e" stroke-width="0.6"/>
<line x1="291.73" y1="553.90" x2="291.73" y2="555.30" stroke="#2e2e2e" stroke-width="0.6"/>
<line x1="294.25" y1="553.90" x2="294.25" y2="555.30" stroke="#2e2e2e" stroke-width="0.6"/>
<line x1="296.78" y1="553.90" x2="296.78" y2="555.30" stroke="#2e2e2e" stroke-width="0.6"/>
<line x1="301.82" y1="553.90" x2="301.82" y2="555.30" stroke="#2e2e2e" stroke-width="0.6"/>
<line x1="304.35" y1="553.90" x2="304.35" y2="555.30" stroke="#2e2e2e" stroke-width="0.6"/>
<line x1="306.88" y1="553.90" x2="306.88" y2="555.30" stroke="#2e2e2e" stroke-width="0.6"/>
<line x1="311.93" y1="553.90" x2="311.93" y2="555.30" stroke="#2e2e2e" stroke-width="0.6"/>
<line x1="314.45" y1="553.90" x2="314.45" y2="555.30" stroke="#2e2e2e" stroke-width="0.6"/>
<line x1="316.98" y1="553.90" x2="316.98" y2="555.30" stroke="#2e2e2e" stroke-width="0.6"/>
<line x1="322.02" y1="553.90" x2="322.02" y2="555.30" stroke="#2e2e2e" stroke-width="0.6"/>
<line x1="324.55" y1="553.90" x2="324.55" y2="555.30" stroke="#2e2e2e" stroke-width="0.6"/>
<line x1="327.07" y1="553.90" x2="327.07" y2="555.30" stroke="#2e2e2e" stroke-width="0.6"/>
<line x1="332.12" y1="553.90" x2="332.12" y2="555.30" stroke="#2e2e2e" stroke-width="0.6"/>
<line x1="334.65" y1="553.90" x2="334.65" y2="555.30" stroke="#2e2e2e" stroke-width="0.6"/>
<line x1="337.18" y1="553.90" x2="337.18" y2="555.30" stroke="#2e2e2e" stroke-width="0.6"/>
<line x1="342.23" y1="553.90" x2="342.23" y2="555.30" stroke="#2e2e2e" stroke-width="0.6"/>
<line x1="344.75" y1="553.90" x2="344.75" y2="555.30" stroke="#2e2e2e" stroke-width="0.6"/>
<line x1="347.27" y1="553.90" x2="347.27" y2="555.30" stroke="#2e2e2e" stroke-width="0.6"/>
<line x1="248.80" y1="553.90" x2="248.80" y2="556.90" stroke="#2e2e2e" stroke-width="0.9"/>
<text transform="translate(248.80,566.70) scale(0.95,1)" font-size="7.9" text-anchor="middle" fill="#2a2a2a" font-weight="normal"  stroke="#2a2a2a" stroke-width="0.06">0</text>
<line x1="269.00" y1="553.90" x2="269.00" y2="556.90" stroke="#2e2e2e" stroke-width="0.9"/>
<text transform="translate(269.00,566.70) scale(0.95,1)" font-size="7.9" text-anchor="middle" fill="#2a2a2a" font-weight="normal"  stroke="#2a2a2a" stroke-width="0.06">2</text>
<line x1="289.20" y1="553.90" x2="289.20" y2="556.90" stroke="#2e2e2e" stroke-width="0.9"/>
<text transform="translate(289.20,566.70) scale(0.95,1)" font-size="7.9" text-anchor="middle" fill="#2a2a2a" font-weight="normal"  stroke="#2a2a2a" stroke-width="0.06">4</text>
<line x1="309.40" y1="553.90" x2="309.40" y2="556.90" stroke="#2e2e2e" stroke-width="0.9"/>
<text transform="translate(309.40,566.70) scale(0.95,1)" font-size="7.9" text-anchor="middle" fill="#2a2a2a" font-weight="normal"  stroke="#2a2a2a" stroke-width="0.06">6</text>
<line x1="329.60" y1="553.90" x2="329.60" y2="556.90" stroke="#2e2e2e" stroke-width="0.9"/>
<text transform="translate(329.60,566.70) scale(0.95,1)" font-size="7.9" text-anchor="middle" fill="#2a2a2a" font-weight="normal"  stroke="#2a2a2a" stroke-width="0.06">8</text>
<line x1="349.80" y1="553.90" x2="349.80" y2="556.90" stroke="#2e2e2e" stroke-width="0.9"/>
<text transform="translate(349.80,566.70) scale(0.95,1)" font-size="7.9" text-anchor="middle" fill="#2a2a2a" font-weight="normal"  stroke="#2a2a2a" stroke-width="0.06">10</text>
<text transform="translate(300.00,579.30) scale(0.83,1)" font-size="9" text-anchor="middle" fill="#2a2a2a" font-weight="normal"  stroke="#2a2a2a" stroke-width="0.05">Day post-injection</text>
<text transform="translate(223,500.1) rotate(-90) scale(0.83,1)" font-size="9" text-anchor="middle" fill="#2a2a2a" stroke="#2a2a2a" stroke-width="0.05">Biotinylated RBC %</text>
<polyline points="248.80,449.10 258.90,470.16 269.00,485.95 289.20,530.18" fill="none" stroke="#d42a78" stroke-width="1.2"/>
<polyline points="248.80,449.10 258.90,456.47 269.00,461.74 289.20,468.05 319.50,483.85 349.80,505.65" fill="none" stroke="#1e5a4c" stroke-width="1.4"/>
<polyline points="248.80,449.10 258.90,456.47 269.00,460.68 289.20,467.53" fill="none" stroke="#1f4560" stroke-width="1.7"/>
<polyline points="289.20,467.53 319.50,468.05 349.80,477.74" fill="none" stroke="#4f6a90" stroke-width="1.5"/>
<line x1="269.00" y1="468.05" x2="269.00" y2="455.42" stroke="#9cb8b0" stroke-width="0.7"/>
<line x1="266.80" y1="455.42" x2="271.20" y2="455.42" stroke="#9cb8b0" stroke-width="0.7"/>
<line x1="266.80" y1="468.05" x2="271.20" y2="468.05" stroke="#9cb8b0" stroke-width="0.7"/>
<line x1="319.50" y1="490.17" x2="319.50" y2="477.53" stroke="#9cb8b0" stroke-width="0.7"/>
<line x1="317.30" y1="477.53" x2="321.70" y2="477.53" stroke="#9cb8b0" stroke-width="0.7"/>
<line x1="317.30" y1="490.17" x2="321.70" y2="490.17" stroke="#9cb8b0" stroke-width="0.7"/>
<line x1="258.90" y1="461.74" x2="258.90" y2="451.21" stroke="#a9bccf" stroke-width="0.7"/>
<line x1="256.70" y1="451.21" x2="261.10" y2="451.21" stroke="#a9bccf" stroke-width="0.7"/>
<line x1="256.70" y1="461.74" x2="261.10" y2="461.74" stroke="#a9bccf" stroke-width="0.7"/>
<line x1="289.20" y1="473.85" x2="289.20" y2="461.21" stroke="#a9bccf" stroke-width="0.7"/>
<line x1="287.00" y1="461.21" x2="291.40" y2="461.21" stroke="#a9bccf" stroke-width="0.7"/>
<line x1="287.00" y1="473.85" x2="291.40" y2="473.85" stroke="#a9bccf" stroke-width="0.7"/>
<line x1="319.50" y1="470.16" x2="319.50" y2="465.95" stroke="#a9bccf" stroke-width="0.7"/>
<line x1="317.30" y1="465.95" x2="321.70" y2="465.95" stroke="#a9bccf" stroke-width="0.7"/>
<line x1="317.30" y1="470.16" x2="321.70" y2="470.16" stroke="#a9bccf" stroke-width="0.7"/>
<line x1="349.80" y1="481.95" x2="349.80" y2="473.53" stroke="#a9bccf" stroke-width="0.7"/>
<line x1="347.60" y1="473.53" x2="352.00" y2="473.53" stroke="#a9bccf" stroke-width="0.7"/>
<line x1="347.60" y1="481.95" x2="352.00" y2="481.95" stroke="#a9bccf" stroke-width="0.7"/>
<line x1="258.90" y1="475.42" x2="258.90" y2="464.89" stroke="#eea0c4" stroke-width="0.7"/>
<line x1="256.70" y1="464.89" x2="261.10" y2="464.89" stroke="#eea0c4" stroke-width="0.7"/>
<line x1="256.70" y1="475.42" x2="261.10" y2="475.42" stroke="#eea0c4" stroke-width="0.7"/>
<line x1="269.00" y1="491.22" x2="269.00" y2="480.69" stroke="#eea0c4" stroke-width="0.7"/>
<line x1="266.80" y1="480.69" x2="271.20" y2="480.69" stroke="#eea0c4" stroke-width="0.7"/>
<line x1="266.80" y1="491.22" x2="271.20" y2="491.22" stroke="#eea0c4" stroke-width="0.7"/>
<line x1="289.20" y1="533.34" x2="289.20" y2="527.02" stroke="#eea0c4" stroke-width="0.7"/>
<line x1="287.00" y1="527.02" x2="291.40" y2="527.02" stroke="#eea0c4" stroke-width="0.7"/>
<line x1="287.00" y1="533.34" x2="291.40" y2="533.34" stroke="#eea0c4" stroke-width="0.7"/>
<path d="M246.00,449.10 L248.80,446.50 L251.60,449.10 L248.80,451.70Z" fill="url(#gSS)"/>
<path d="M256.10,470.16 L258.90,467.56 L261.70,470.16 L258.90,472.76Z" fill="url(#gSS)"/>
<path d="M266.20,485.95 L269.00,483.35 L271.80,485.95 L269.00,488.56Z" fill="url(#gSS)"/>
<path d="M286.40,530.18 L289.20,527.58 L292.00,530.18 L289.20,532.78Z" fill="url(#gSS)"/>
<circle cx="289.20" cy="468.05" r="3" fill="url(#gSC)"/>
<circle cx="319.50" cy="483.85" r="3" fill="url(#gSC)"/>
<circle cx="349.80" cy="505.65" r="3" fill="url(#gSC)"/>
<rect x="256.00" y="453.77" width="5.8" height="5.2" fill="url(#gAA)" stroke="#9ab0cc" stroke-width="0.3"/>
<rect x="266.10" y="457.98" width="5.8" height="5.2" fill="url(#gAA)" stroke="#9ab0cc" stroke-width="0.3"/>
<circle cx="269.00" cy="461.74" r="3" fill="url(#gSC)"/>
<rect x="286.30" y="464.83" width="5.8" height="5.2" fill="url(#gAA)" stroke="#9ab0cc" stroke-width="0.3"/>
<rect x="316.60" y="465.35" width="5.8" height="5.2" fill="url(#gAA)" stroke="#9ab0cc" stroke-width="0.3"/>
<rect x="346.90" y="475.04" width="5.8" height="5.2" fill="url(#gAA)" stroke="#9ab0cc" stroke-width="0.3"/>
<rect x="245.90" y="446.40" width="5.8" height="5.2" fill="url(#gAA)" stroke="#9ab0cc" stroke-width="0.3"/>
<line x1="382.60" y1="491.50" x2="392.00" y2="491.50" stroke="#1d3c6a" stroke-width="1.1"/>
<rect x="384.9" y="489.50" width="5.2" height="4" fill="url(#gAA)"/>
<text transform="translate(396.80,494.20) scale(0.95,1)" font-size="7.9" text-anchor="start" fill="#3a4a6a" font-weight="normal"  stroke="#3a4a6a" stroke-width="0.05">AA</text>
<line x1="382.60" y1="501.30" x2="392.00" y2="501.30" stroke="#d2237a" stroke-width="1.1"/>
<path d="M385,501.30 L387.3,499.10 L389.6,501.30 L387.3,503.50Z" fill="url(#gSS)"/>
<text transform="translate(396.80,504.00) scale(0.95,1)" font-size="7.9" text-anchor="start" fill="#d0307a" font-weight="normal"  stroke="#d0307a" stroke-width="0.05">SS</text>
<line x1="382.60" y1="511.40" x2="392.00" y2="511.40" stroke="#1e6a50" stroke-width="1.1"/>
<circle cx="387.5" cy="511.40" r="2.2" fill="url(#gSC)"/>
<text transform="translate(396.80,514.10) scale(0.95,1)" font-size="7.9" text-anchor="start" fill="#2f6a52" font-weight="normal"  stroke="#2f6a52" stroke-width="0.05">SC</text>
<text x="210.00" y="441.70" font-size="11.6" font-weight="bold" fill="#000" stroke="#000" stroke-width="0.2" stroke-linejoin="round">M</text>
<rect x="0.5" y="0.5" width="519" height="588" fill="none" stroke="#555" stroke-width="1"/>
</svg>
</body></html>
